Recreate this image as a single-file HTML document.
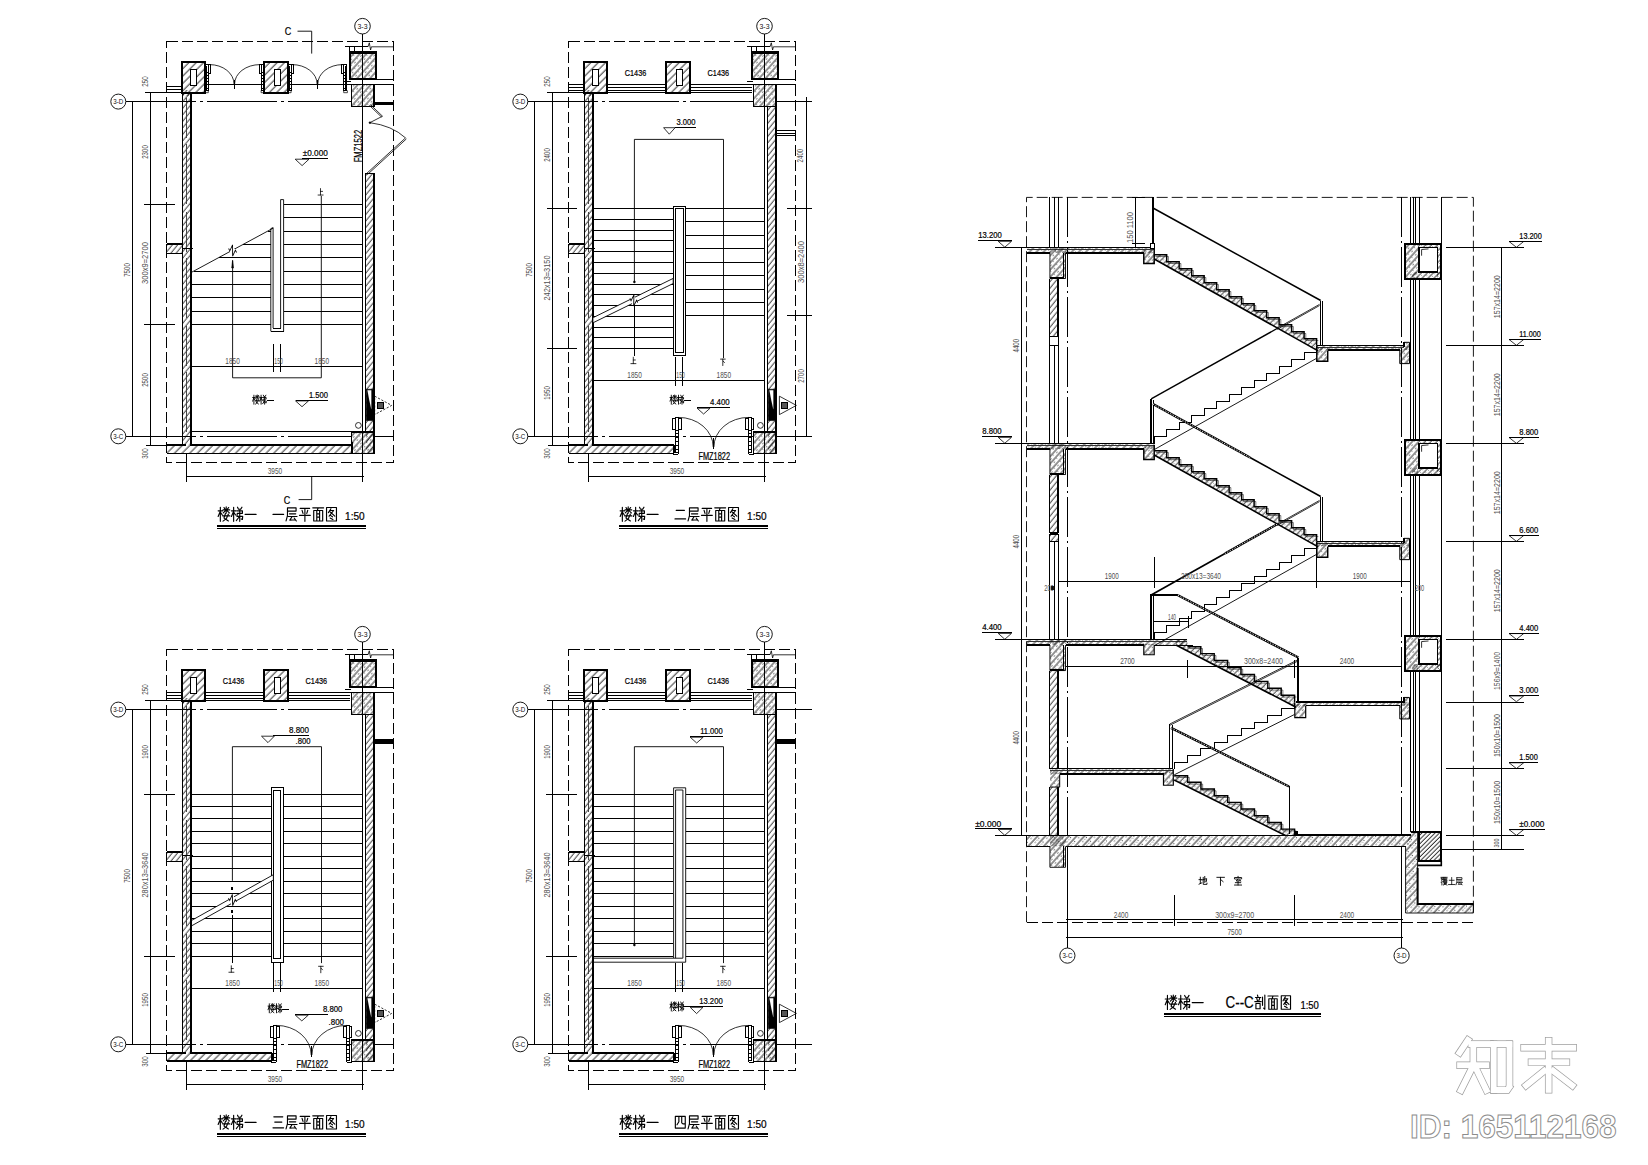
<!DOCTYPE html>
<html><head><meta charset="utf-8"><title>stair</title>
<style>html,body{margin:0;padding:0;background:#fff}svg{display:block}text{font-family:"Liberation Sans",sans-serif}.b{stroke:#000;stroke-width:.22px}</style>
</head><body>
<svg width="1648" height="1165" viewBox="0 0 1648 1165">
<defs>
<pattern id="hw" width="20" height="4.1" patternUnits="userSpaceOnUse" patternTransform="rotate(-51)"><line x1="0" y1="1" x2="20" y2="1" stroke="#000" stroke-width="0.8"/></pattern>
<pattern id="hcol" width="20" height="5.2" patternUnits="userSpaceOnUse" patternTransform="rotate(-45)"><line x1="0" y1="1" x2="20" y2="1" stroke="#000" stroke-width="0.85"/></pattern>
<pattern id="hw2" width="20" height="5.4" patternUnits="userSpaceOnUse" patternTransform="rotate(-45)"><line x1="0" y1="1" x2="20" y2="1" stroke="#000" stroke-width="0.85"/></pattern>
<pattern id="hc" width="9" height="4.8" patternUnits="userSpaceOnUse" patternTransform="rotate(-48)"><line x1="0" y1="1" x2="9" y2="1" stroke="#000" stroke-width="0.85"/><circle cx="2" cy="3.2" r="0.55"/><circle cx="6.5" cy="2.6" r="0.45"/></pattern>
<pattern id="hs" width="7" height="4.2" patternUnits="userSpaceOnUse" patternTransform="rotate(-45)"><line x1="0" y1="1" x2="7" y2="1" stroke="#000" stroke-width="0.8"/><circle cx="2" cy="2.4" r="0.45"/><circle cx="5.3" cy="2.7" r="0.4"/></pattern>
<pattern id="hsl" width="9" height="5" patternUnits="userSpaceOnUse" patternTransform="rotate(-45)"><line x1="0" y1="1" x2="9" y2="1" stroke="#000" stroke-width="0.8"/><circle cx="2" cy="3.2" r="0.5"/><circle cx="6.4" cy="3.6" r="0.45"/></pattern>
<pattern id="hg" width="11" height="5.7" patternUnits="userSpaceOnUse" patternTransform="rotate(-47)"><line x1="0" y1="1" x2="11" y2="1" stroke="#000" stroke-width="0.9"/><circle cx="2" cy="3.6" r="0.55"/><circle cx="7.5" cy="3.2" r="0.5"/><path d="M4.5,3 l1.2,1.2" stroke="#000" stroke-width="0.5"/></pattern>
<pattern id="hd" width="10" height="3.1" patternUnits="userSpaceOnUse" patternTransform="rotate(-45)"><line x1="0" y1="1" x2="10" y2="1" stroke="#000" stroke-width="0.8"/></pattern>
</defs>
<rect width="1648" height="1165" fill="#fff"/>
<g transform="translate(0 0)">
<rect x="166.5" y="41.5" width="227" height="421" fill="none" stroke="#000" stroke-width="1" shape-rendering="crispEdges" stroke-dasharray="11 4"/>
<rect x="182.4" y="92.3" width="8.2" height="352.7" fill="url(#hw)" stroke="none" stroke-width="0" shape-rendering="crispEdges"/>
<line x1="182.5" y1="92.3" x2="182.5" y2="445" stroke="#000" stroke-width="1" shape-rendering="crispEdges"/>
<line x1="186.5" y1="98" x2="186.5" y2="440" stroke="#444" stroke-width="1" stroke-dasharray="40 6 60 8" shape-rendering="crispEdges"/>
<line x1="191" y1="92.3" x2="191" y2="445.5" stroke="#000" stroke-width="2" shape-rendering="crispEdges"/>
<rect x="166.5" y="244.4" width="15.9" height="9.2" fill="url(#hw)" stroke="none" stroke-width="0" shape-rendering="crispEdges"/>
<line x1="166.5" y1="244" x2="182.4" y2="244" stroke="#000" stroke-width="2" shape-rendering="crispEdges"/>
<line x1="166.5" y1="253.5" x2="182.4" y2="253.5" stroke="#000" stroke-width="1" shape-rendering="crispEdges"/>
<line x1="166.5" y1="244.4" x2="166.5" y2="253.6" stroke="#000" stroke-width="1" shape-rendering="crispEdges"/>
<line x1="182.4" y1="248.5" x2="193" y2="248.5" stroke="#000" stroke-width="1" shape-rendering="crispEdges"/>
<line x1="166.5" y1="86.5" x2="182.4" y2="86.5" stroke="#000" stroke-width="1" shape-rendering="crispEdges"/>
<line x1="166.5" y1="89.5" x2="182.4" y2="89.5" stroke="#000" stroke-width="1" shape-rendering="crispEdges"/>
<line x1="205" y1="84.5" x2="349.5" y2="84.5" stroke="#000" stroke-width="1" shape-rendering="crispEdges"/>
<rect x="205.5" y="64.5" width="3" height="26" fill="#fff" stroke="#000" stroke-width="1" shape-rendering="crispEdges"/>
<line x1="206.4" y1="72.5" x2="208.3" y2="72.5" stroke="#000" stroke-width="1" shape-rendering="crispEdges"/>
<line x1="206.4" y1="75.5" x2="208.3" y2="75.5" stroke="#000" stroke-width="1" shape-rendering="crispEdges"/>
<line x1="206.4" y1="78.5" x2="208.3" y2="78.5" stroke="#000" stroke-width="1" shape-rendering="crispEdges"/>
<line x1="206.4" y1="81.5" x2="208.3" y2="81.5" stroke="#000" stroke-width="1" shape-rendering="crispEdges"/>
<line x1="206.4" y1="84.5" x2="208.3" y2="84.5" stroke="#000" stroke-width="1" shape-rendering="crispEdges"/>
<line x1="206.4" y1="88.5" x2="208.3" y2="88.5" stroke="#000" stroke-width="1" shape-rendering="crispEdges"/>
<line x1="206.5" y1="66" x2="206.5" y2="90.4" stroke="#000" stroke-width="1" shape-rendering="crispEdges"/>
<rect x="208.5" y="64.5" width="2" height="9" fill="#fff" stroke="#000" stroke-width="1" shape-rendering="crispEdges"/>
<path d="M204.6,90.4 L204.6,92.7 L208.3,92.7 L208.3,90.4" fill="none" stroke="#000" stroke-width="0.7" stroke-linejoin="miter"/>
<rect x="261.5" y="64.5" width="3" height="26" fill="#fff" stroke="#000" stroke-width="1" shape-rendering="crispEdges"/>
<line x1="263" y1="72.5" x2="261.1" y2="72.5" stroke="#000" stroke-width="1" shape-rendering="crispEdges"/>
<line x1="263" y1="75.5" x2="261.1" y2="75.5" stroke="#000" stroke-width="1" shape-rendering="crispEdges"/>
<line x1="263" y1="78.5" x2="261.1" y2="78.5" stroke="#000" stroke-width="1" shape-rendering="crispEdges"/>
<line x1="263" y1="81.5" x2="261.1" y2="81.5" stroke="#000" stroke-width="1" shape-rendering="crispEdges"/>
<line x1="263" y1="84.5" x2="261.1" y2="84.5" stroke="#000" stroke-width="1" shape-rendering="crispEdges"/>
<line x1="263" y1="88.5" x2="261.1" y2="88.5" stroke="#000" stroke-width="1" shape-rendering="crispEdges"/>
<line x1="263.5" y1="66" x2="263.5" y2="90.4" stroke="#000" stroke-width="1" shape-rendering="crispEdges"/>
<rect x="259.5" y="64.5" width="2" height="9" fill="#fff" stroke="#000" stroke-width="1" shape-rendering="crispEdges"/>
<path d="M264.8,90.4 L264.8,92.7 L261.1,92.7 L261.1,90.4" fill="none" stroke="#000" stroke-width="0.7" stroke-linejoin="miter"/>
<rect x="288.5" y="64.5" width="3" height="26" fill="#fff" stroke="#000" stroke-width="1" shape-rendering="crispEdges"/>
<line x1="289.2" y1="72.5" x2="291.1" y2="72.5" stroke="#000" stroke-width="1" shape-rendering="crispEdges"/>
<line x1="289.2" y1="75.5" x2="291.1" y2="75.5" stroke="#000" stroke-width="1" shape-rendering="crispEdges"/>
<line x1="289.2" y1="78.5" x2="291.1" y2="78.5" stroke="#000" stroke-width="1" shape-rendering="crispEdges"/>
<line x1="289.2" y1="81.5" x2="291.1" y2="81.5" stroke="#000" stroke-width="1" shape-rendering="crispEdges"/>
<line x1="289.2" y1="84.5" x2="291.1" y2="84.5" stroke="#000" stroke-width="1" shape-rendering="crispEdges"/>
<line x1="289.2" y1="88.5" x2="291.1" y2="88.5" stroke="#000" stroke-width="1" shape-rendering="crispEdges"/>
<line x1="289.5" y1="66" x2="289.5" y2="90.4" stroke="#000" stroke-width="1" shape-rendering="crispEdges"/>
<rect x="291.5" y="64.5" width="2" height="9" fill="#fff" stroke="#000" stroke-width="1" shape-rendering="crispEdges"/>
<path d="M287.4,90.4 L287.4,92.7 L291.1,92.7 L291.1,90.4" fill="none" stroke="#000" stroke-width="0.7" stroke-linejoin="miter"/>
<rect x="343.5" y="64.5" width="3" height="26" fill="#fff" stroke="#000" stroke-width="1" shape-rendering="crispEdges"/>
<line x1="345.6" y1="72.5" x2="343.7" y2="72.5" stroke="#000" stroke-width="1" shape-rendering="crispEdges"/>
<line x1="345.6" y1="75.5" x2="343.7" y2="75.5" stroke="#000" stroke-width="1" shape-rendering="crispEdges"/>
<line x1="345.6" y1="78.5" x2="343.7" y2="78.5" stroke="#000" stroke-width="1" shape-rendering="crispEdges"/>
<line x1="345.6" y1="81.5" x2="343.7" y2="81.5" stroke="#000" stroke-width="1" shape-rendering="crispEdges"/>
<line x1="345.6" y1="84.5" x2="343.7" y2="84.5" stroke="#000" stroke-width="1" shape-rendering="crispEdges"/>
<line x1="345.6" y1="88.5" x2="343.7" y2="88.5" stroke="#000" stroke-width="1" shape-rendering="crispEdges"/>
<line x1="345.5" y1="66" x2="345.5" y2="90.4" stroke="#000" stroke-width="1" shape-rendering="crispEdges"/>
<rect x="341.5" y="64.5" width="2" height="9" fill="#fff" stroke="#000" stroke-width="1" shape-rendering="crispEdges"/>
<path d="M347.4,90.4 L347.4,92.7 L343.7,92.7 L343.7,90.4" fill="none" stroke="#000" stroke-width="0.7" stroke-linejoin="miter"/>
<path d="M209.6,64.6 A24.4,19.4 0 0 1 234,84" fill="none" stroke="#000" stroke-width="0.8"/>
<path d="M260,64.6 A25.4,19.4 0 0 0 234.6,84" fill="none" stroke="#000" stroke-width="0.8"/>
<line x1="234.5" y1="80.1" x2="234.5" y2="88.8" stroke="#000" stroke-width="1" shape-rendering="crispEdges"/>
<path d="M292.1,64.6 A25,19.4 0 0 1 317.1,84" fill="none" stroke="#000" stroke-width="0.8"/>
<path d="M342.6,64.6 A24.8,19.4 0 0 0 317.8,84" fill="none" stroke="#000" stroke-width="0.8"/>
<line x1="317.5" y1="80.1" x2="317.5" y2="88.8" stroke="#000" stroke-width="1" shape-rendering="crispEdges"/>
<rect x="182.4" y="61.7" width="22.4" height="30.9" fill="#fff" stroke="none" stroke-width="0" shape-rendering="crispEdges"/>
<rect x="182" y="62" width="23" height="31" fill="url(#hcol)" stroke="#000" stroke-width="2" shape-rendering="crispEdges"/>
<rect x="190.5" y="69.5" width="6" height="16" fill="#fff" stroke="#000" stroke-width="1" shape-rendering="crispEdges"/>
<rect x="264.4" y="61.7" width="23.1" height="30.9" fill="#fff" stroke="none" stroke-width="0" shape-rendering="crispEdges"/>
<rect x="264" y="62" width="24" height="31" fill="url(#hcol)" stroke="#000" stroke-width="2" shape-rendering="crispEdges"/>
<rect x="274.5" y="69.5" width="6" height="16" fill="#fff" stroke="#000" stroke-width="1" shape-rendering="crispEdges"/>
<rect x="183.3" y="90" width="6.3" height="6" fill="url(#hw)" stroke="none" stroke-width="0" shape-rendering="crispEdges"/>
<line x1="190.6" y1="93" x2="204.8" y2="93" stroke="#000" stroke-width="2" shape-rendering="crispEdges"/>
<line x1="345" y1="46.5" x2="368" y2="46.5" stroke="#000" stroke-width="1" shape-rendering="crispEdges"/>
<path d="M368,46.8 L369.3,42.8 L370.6,50 L371.4,46.8 L393.6,46.8" fill="none" stroke="#000" stroke-width="0.8" stroke-linejoin="miter"/>
<line x1="349.5" y1="46.8" x2="349.5" y2="52.5" stroke="#000" stroke-width="1" shape-rendering="crispEdges"/>
<line x1="354.5" y1="46.8" x2="354.5" y2="52.5" stroke="#000" stroke-width="1" shape-rendering="crispEdges"/>
<rect x="349.7" y="52.5" width="26.7" height="26.7" fill="#fff" stroke="none" stroke-width="0" shape-rendering="crispEdges"/>
<rect x="350" y="52" width="26" height="27" fill="url(#hc)" stroke="#000" stroke-width="2" shape-rendering="crispEdges"/>
<line x1="349.7" y1="53" x2="376.4" y2="53" stroke="#000" stroke-width="2" shape-rendering="crispEdges"/>
<line x1="376" y1="52.5" x2="376" y2="79.2" stroke="#000" stroke-width="2" shape-rendering="crispEdges"/>
<line x1="349.7" y1="79.5" x2="393.6" y2="79.5" stroke="#000" stroke-width="1" shape-rendering="crispEdges"/>
<line x1="345" y1="81.5" x2="351" y2="81.5" stroke="#000" stroke-width="1" shape-rendering="crispEdges"/>
<line x1="347" y1="84.5" x2="393.6" y2="84.5" stroke="#000" stroke-width="1" shape-rendering="crispEdges"/>
<rect x="351.3" y="84.4" width="23" height="21.7" fill="#fff" stroke="none" stroke-width="0" shape-rendering="crispEdges"/>
<rect x="351.5" y="84.5" width="23" height="22" fill="url(#hc)" stroke="#000" stroke-width="1" shape-rendering="crispEdges"/>
<line x1="374" y1="84.4" x2="374" y2="106.1" stroke="#000" stroke-width="2" shape-rendering="crispEdges"/>
<line x1="374.4" y1="103" x2="393.6" y2="103" stroke="#000" stroke-width="2" shape-rendering="crispEdges"/>
<line x1="374.4" y1="104.5" x2="393.6" y2="104.5" stroke="#000" stroke-width="1" shape-rendering="crispEdges"/>
<line x1="362.5" y1="34" x2="362.5" y2="482" stroke="#000" stroke-width="1" shape-rendering="crispEdges"/>
<circle cx="362.5" cy="26.2" r="7.8" fill="#fff" stroke="#000" stroke-width="0.9"/>
<text x="362.5" y="28.5" font-size="6.5" textLength="10" lengthAdjust="spacingAndGlyphs" text-anchor="middle" fill="#111">3-3</text>
<line x1="125.5" y1="101.5" x2="352" y2="101.5" stroke="#000" stroke-width="1" stroke-dasharray="70 4 3 4" shape-rendering="crispEdges"/>
<line x1="125.5" y1="436.5" x2="352" y2="436.5" stroke="#000" stroke-width="1" stroke-dasharray="70 4 3 4" shape-rendering="crispEdges"/>
<circle cx="118.3" cy="101.6" r="7.5" fill="#fff" stroke="#000" stroke-width="0.9"/>
<text x="118.3" y="103.9" font-size="6.5" textLength="10" lengthAdjust="spacingAndGlyphs" text-anchor="middle" fill="#111">3-D</text>
<circle cx="118.3" cy="436.3" r="7.5" fill="#fff" stroke="#000" stroke-width="0.9"/>
<text x="118.3" y="438.6" font-size="6.5" textLength="10" lengthAdjust="spacingAndGlyphs" text-anchor="middle" fill="#111">3-C</text>
<line x1="374.5" y1="436.5" x2="393.6" y2="436.5" stroke="#000" stroke-width="1" shape-rendering="crispEdges"/>
<rect x="365.8" y="173" width="8.4" height="280.4" fill="url(#hw)" stroke="none" stroke-width="0" shape-rendering="crispEdges"/>
<line x1="365.5" y1="173" x2="365.5" y2="432" stroke="#000" stroke-width="1" shape-rendering="crispEdges"/>
<line x1="374" y1="173" x2="374" y2="453.4" stroke="#000" stroke-width="2" shape-rendering="crispEdges"/>
<line x1="365.6" y1="173.5" x2="374.5" y2="173.5" stroke="#000" stroke-width="1" shape-rendering="crispEdges"/>
<rect x="166.5" y="445" width="184.8" height="8.3" fill="url(#hw2)" stroke="none" stroke-width="0" shape-rendering="crispEdges"/>
<line x1="166.5" y1="445" x2="186" y2="445" stroke="#000" stroke-width="2" shape-rendering="crispEdges"/>
<line x1="190.6" y1="445" x2="351.3" y2="445" stroke="#000" stroke-width="2" shape-rendering="crispEdges"/>
<line x1="166.5" y1="453.5" x2="374.5" y2="453.5" stroke="#000" stroke-width="1" shape-rendering="crispEdges"/>
<line x1="166.5" y1="445" x2="166.5" y2="453.3" stroke="#000" stroke-width="1" shape-rendering="crispEdges"/>
<line x1="190.6" y1="431.5" x2="365.6" y2="431.5" stroke="#000" stroke-width="1" shape-rendering="crispEdges"/>
<rect x="351.5" y="431.5" width="23" height="22" fill="url(#hc)" stroke="#000" stroke-width="1" shape-rendering="crispEdges"/>
<line x1="351.3" y1="432.5" x2="374.2" y2="432.5" stroke="#000" stroke-width="1" shape-rendering="crispEdges"/>
<line x1="352" y1="442" x2="352" y2="453.4" stroke="#000" stroke-width="2" shape-rendering="crispEdges"/>
<path d="M366.2,389.2 L373.9,389.2 L373.9,420.6 L366.2,420.6Z" fill="#000" stroke="#000" stroke-width="0.5" stroke-linejoin="miter"/>
<path d="M367.4,390.2 Q369.4,401.2 371.3,409.2 L371.3,390.2 Z" fill="#fff" stroke="#fff" stroke-width="0.1"/>
<path d="M374.7,396.2 L391.7,405.4 L374.7,414.6Z" fill="none" stroke="#000" stroke-width="0.8" stroke-linejoin="miter" stroke-dasharray="2.2 1.6"/>
<rect x="377.5" y="402.5" width="6" height="6" fill="#555" stroke="#000" stroke-width="1" shape-rendering="crispEdges"/>
<circle cx="358.4" cy="425.4" r="2.9" fill="none" stroke="#000" stroke-width="0.8"/>
<line x1="132.5" y1="101.6" x2="132.5" y2="436.3" stroke="#000" stroke-width="1" shape-rendering="crispEdges"/>
<line x1="150.5" y1="92.3" x2="150.5" y2="445.2" stroke="#000" stroke-width="1" shape-rendering="crispEdges"/>
<line x1="144.5" y1="92.5" x2="182.4" y2="92.5" stroke="#000" stroke-width="1" shape-rendering="crispEdges"/>
<line x1="145.6" y1="445.5" x2="166.5" y2="445.5" stroke="#000" stroke-width="1" shape-rendering="crispEdges"/>
<line x1="185.5" y1="476.5" x2="363.8" y2="476.5" stroke="#000" stroke-width="1" shape-rendering="crispEdges"/>
<line x1="186.5" y1="453.4" x2="186.5" y2="482" stroke="#000" stroke-width="1" shape-rendering="crispEdges"/>
<text x="275" y="474.2" font-size="9.4" textLength="14.5" lengthAdjust="spacingAndGlyphs" text-anchor="middle" fill="#505050">3950</text>
<line x1="283.6" y1="204.5" x2="362.5" y2="204.5" stroke="#000" stroke-width="1" shape-rendering="crispEdges"/>
<line x1="283.6" y1="217.5" x2="362.5" y2="217.5" stroke="#000" stroke-width="1" shape-rendering="crispEdges"/>
<line x1="283.6" y1="231.5" x2="362.5" y2="231.5" stroke="#000" stroke-width="1" shape-rendering="crispEdges"/>
<line x1="283.6" y1="244.5" x2="362.5" y2="244.5" stroke="#000" stroke-width="1" shape-rendering="crispEdges"/>
<line x1="283.6" y1="257.5" x2="362.5" y2="257.5" stroke="#000" stroke-width="1" shape-rendering="crispEdges"/>
<line x1="283.6" y1="271.5" x2="362.5" y2="271.5" stroke="#000" stroke-width="1" shape-rendering="crispEdges"/>
<line x1="283.6" y1="284.5" x2="362.5" y2="284.5" stroke="#000" stroke-width="1" shape-rendering="crispEdges"/>
<line x1="283.6" y1="297.5" x2="362.5" y2="297.5" stroke="#000" stroke-width="1" shape-rendering="crispEdges"/>
<line x1="283.6" y1="311.5" x2="362.5" y2="311.5" stroke="#000" stroke-width="1" shape-rendering="crispEdges"/>
<line x1="283.6" y1="324.5" x2="362.5" y2="324.5" stroke="#000" stroke-width="1" shape-rendering="crispEdges"/>
<line x1="267.92" y1="231.5" x2="270.8" y2="231.5" stroke="#000" stroke-width="1" shape-rendering="crispEdges"/>
<line x1="243.23" y1="244.5" x2="270.8" y2="244.5" stroke="#000" stroke-width="1" shape-rendering="crispEdges"/>
<line x1="218.54" y1="257.5" x2="270.8" y2="257.5" stroke="#000" stroke-width="1" shape-rendering="crispEdges"/>
<line x1="193.85" y1="271.5" x2="270.8" y2="271.5" stroke="#000" stroke-width="1" shape-rendering="crispEdges"/>
<line x1="191.5" y1="284.5" x2="270.8" y2="284.5" stroke="#000" stroke-width="1" shape-rendering="crispEdges"/>
<line x1="191.5" y1="297.5" x2="270.8" y2="297.5" stroke="#000" stroke-width="1" shape-rendering="crispEdges"/>
<line x1="191.5" y1="311.5" x2="270.8" y2="311.5" stroke="#000" stroke-width="1" shape-rendering="crispEdges"/>
<line x1="191.5" y1="324.5" x2="270.8" y2="324.5" stroke="#000" stroke-width="1" shape-rendering="crispEdges"/>
<line x1="190.8" y1="272.7" x2="273.1" y2="228.2" stroke="#000" stroke-width="0.9"/>
<g transform="rotate(-28 232.6 250.5)">
<rect x="230" y="247.3" width="5.2" height="6.4" fill="#fff" stroke="none" stroke-width="0" shape-rendering="crispEdges"/>
<path d="M230,246.9 L230,249.5 L235.2,245.5 L230,255.5 L235.2,251.5 L235.2,254.1" fill="none" stroke="#000" stroke-width="0.9" stroke-linejoin="miter"/>
</g>
<path d="M270.8,331.4 L270.8,228.6 L273.1,227.6 L273.1,328" fill="none" stroke="#000" stroke-width="0.9" stroke-linejoin="miter"/>
<path d="M283.6,331.4 L283.6,199.6 L280.6,199.6 L280.6,328" fill="none" stroke="#000" stroke-width="0.9" stroke-linejoin="miter"/>
<line x1="270.8" y1="331.5" x2="283.6" y2="331.5" stroke="#000" stroke-width="1" shape-rendering="crispEdges"/>
<line x1="273.1" y1="328.5" x2="280.6" y2="328.5" stroke="#000" stroke-width="1" shape-rendering="crispEdges"/>
<path d="M321.3,196 L321.3,377.8 L232.6,377.8 L232.6,261" fill="none" stroke="#000" stroke-width="0.9" stroke-linejoin="miter"/>
<path d="M232.6,260 L231.7,268 L233.5,268Z" fill="#000" stroke="#000" stroke-width="0.6" stroke-linejoin="miter"/>
<path d="M320.49,188.58 L320.49,195.04M320.49,191.39 L322.56,191.39M318.08,195.04 L323.12,195.04" fill="none" stroke="#000" stroke-width="0.8" stroke-linecap="round" stroke-linejoin="round"/>
<line x1="190.8" y1="366.5" x2="362.4" y2="366.5" stroke="#000" stroke-width="1" shape-rendering="crispEdges"/>
<line x1="273.5" y1="344.2" x2="273.5" y2="372" stroke="#000" stroke-width="1" shape-rendering="crispEdges"/>
<line x1="280.5" y1="344.2" x2="280.5" y2="372" stroke="#000" stroke-width="1" shape-rendering="crispEdges"/>
<text x="232.6" y="363.8" font-size="9.4" textLength="14.5" lengthAdjust="spacingAndGlyphs" text-anchor="middle" fill="#505050">1850</text>
<text x="278.6" y="363.8" font-size="9.4" textLength="8.5" lengthAdjust="spacingAndGlyphs" text-anchor="middle" fill="#505050">150</text>
<text x="321.8" y="363.8" font-size="9.4" textLength="14.5" lengthAdjust="spacingAndGlyphs" text-anchor="middle" fill="#505050">1850</text>
<path d="M252.64,397.49 L255.16,397.49M253.9,395.18 L253.9,404.21M253.9,397.68 L252.64,401.14M253.9,398.26 L255.02,400.18M257.26,394.99 L257.26,399.02M255.44,396.91 L259.29,396.91M256,395.38 L256.56,396.43M258.66,395.38 L257.96,396.43M257.12,397.1 L255.58,398.83M257.4,397.1 L259.08,398.83M255.3,400.75 L259.36,400.75M256.84,399.22 L256,402.1 L258.52,404.02M258.52,399.6 L257.4,402.48 L255.44,404.11" fill="none" stroke="#000" stroke-width="0.9" stroke-linecap="round" stroke-linejoin="round"/>
<path d="M259.84,397.49 L262.36,397.49M261.1,395.18 L261.1,404.21M261.1,397.68 L259.84,401.14M261.1,398.26 L262.22,400.18M263.34,395.18 L263.9,396.43M265.86,395.18 L265.16,396.43M262.92,397.49 L266.14,397.49 L266.14,399.12 L263.2,399.12 L262.99,401.04 L266.28,401.04 L266.14,403.06 L265.44,402.67M264.6,396.43 L264.6,404.21M264.46,401.14 L262.64,403.73" fill="none" stroke="#000" stroke-width="0.9" stroke-linecap="round" stroke-linejoin="round"/>
<line x1="267" y1="400.5" x2="273.5" y2="400.5" stroke="#000" stroke-width="1" shape-rendering="crispEdges"/>
<line x1="295.5" y1="400.5" x2="327.9" y2="400.5" stroke="#000" stroke-width="1" shape-rendering="crispEdges"/>
<path d="M295.5,400.9 L308.5,400.9 L302,406.7Z" fill="none" stroke="#000" stroke-width="0.8" stroke-linejoin="miter"/>
<text x="327.9" y="398.1" font-size="9.3" textLength="19" lengthAdjust="spacingAndGlyphs" text-anchor="end" class="b">1.500</text>
<line x1="302.1" y1="158.5" x2="327.8" y2="158.5" stroke="#000" stroke-width="1" shape-rendering="crispEdges"/>
<path d="M295.2,159.2 L309,159.2 L302.1,165.6Z" fill="none" stroke="#000" stroke-width="0.8" stroke-linejoin="miter"/>
<text x="327.8" y="156.2" font-size="9.3" textLength="25" lengthAdjust="spacingAndGlyphs" text-anchor="end" class="b">±0.000</text>
<text x="362.2" y="162.3" font-size="10" textLength="32.5" lengthAdjust="spacingAndGlyphs" transform="rotate(-90 362.2 162.3)" class="b">FMZ1522</text>
<path d="M369.4,105.4 L381.5,117" fill="none" stroke="#000" stroke-width="0.8" stroke-linejoin="miter"/>
<path d="M370.4,104.6 L382.5,116.2 L370,122.6" fill="none" stroke="#000" stroke-width="0.8" stroke-linejoin="miter"/>
<circle cx="369.9" cy="122.7" r="0.9" fill="#000" stroke="#000" stroke-width="0.5"/>
<path d="M369.9,122.7 Q392,125.5 405.5,137.9" fill="none" stroke="#000" stroke-width="0.8"/>
<line x1="405.5" y1="137.9" x2="366.4" y2="173.7" stroke="#000" stroke-width="0.8"/>
<line x1="406.4" y1="138.9" x2="367.4" y2="174.6" stroke="#000" stroke-width="0.8"/>
<line x1="143.8" y1="204.5" x2="174.6" y2="204.5" stroke="#000" stroke-width="1" shape-rendering="crispEdges"/>
<line x1="143.8" y1="324.5" x2="174.6" y2="324.5" stroke="#000" stroke-width="1" shape-rendering="crispEdges"/>
<text x="147.6" y="81.5" font-size="9.4" textLength="10.3" lengthAdjust="spacingAndGlyphs" text-anchor="middle" transform="rotate(-90 147.6 81.5)" fill="#505050">250</text>
<text x="147.6" y="152" font-size="9.4" textLength="13.6" lengthAdjust="spacingAndGlyphs" text-anchor="middle" transform="rotate(-90 147.6 152)" fill="#505050">2300</text>
<text x="129.8" y="270" font-size="9.4" textLength="13.6" lengthAdjust="spacingAndGlyphs" text-anchor="middle" transform="rotate(-90 129.8 270)" fill="#505050">7500</text>
<text x="147.6" y="263" font-size="9.4" textLength="42" lengthAdjust="spacingAndGlyphs" text-anchor="middle" transform="rotate(-90 147.6 263)" fill="#505050">300x9=2700</text>
<text x="147.6" y="380" font-size="9.4" textLength="13.6" lengthAdjust="spacingAndGlyphs" text-anchor="middle" transform="rotate(-90 147.6 380)" fill="#505050">2500</text>
<text x="147.6" y="453.5" font-size="9.4" textLength="10.3" lengthAdjust="spacingAndGlyphs" text-anchor="middle" transform="rotate(-90 147.6 453.5)" fill="#505050">300</text>
<text x="284.8" y="35.2" font-size="11.5" textLength="6.5" lengthAdjust="spacingAndGlyphs" class="b">C</text>
<path d="M297.5,31.2 L311.7,31.2 L311.7,53.6" fill="none" stroke="#000" stroke-width="0.9" stroke-linejoin="miter"/>
<path d="M311.7,476.1 L311.7,499.6 L298.6,499.6" fill="none" stroke="#000" stroke-width="0.9" stroke-linejoin="miter"/>
<text x="283.8" y="503.5" font-size="11.5" textLength="6.5" lengthAdjust="spacingAndGlyphs" class="b">C</text>
<path d="M218.14,510.8 L222.54,510.8M220.34,507.2 L220.34,521.3M220.34,511.1 L218.14,516.5M220.34,512 L222.29,515M226.2,506.9 L226.2,513.2M223.02,509.9 L229.73,509.9M224,507.5 L224.98,509.15M228.64,507.5 L227.42,509.15M225.95,510.2 L223.27,512.9M226.44,510.2 L229.37,512.9M222.78,515.9 L229.86,515.9M225.46,513.5 L224,518 L228.39,521M228.39,514.1 L226.44,518.6 L223.02,521.15" fill="none" stroke="#000" stroke-width="1.15" stroke-linecap="round" stroke-linejoin="round"/>
<path d="M231.44,510.8 L235.84,510.8M233.64,507.2 L233.64,521.3M233.64,511.1 L231.44,516.5M233.64,512 L235.59,515M237.54,507.2 L238.52,509.15M241.94,507.2 L240.72,509.15M236.81,510.8 L242.42,510.8 L242.42,513.35 L237.3,513.35 L236.93,516.35 L242.67,516.35 L242.42,519.5 L241.2,518.9M239.74,509.15 L239.74,521.3M239.5,516.5 L236.32,520.55" fill="none" stroke="#000" stroke-width="1.15" stroke-linecap="round" stroke-linejoin="round"/>
<path d="M245.11,514.4 L256.09,514.4" fill="none" stroke="#000" stroke-width="1.15" stroke-linecap="round" stroke-linejoin="round"/>
<path d="M272.99,514.4 L283.61,514.4" fill="none" stroke="#000" stroke-width="1.15" stroke-linecap="round" stroke-linejoin="round"/>
<path d="M287.47,507.8 L296.08,507.8 L296.08,511.1 L287.47,511.1M287.47,507.8 L287.47,515.6 L286.05,520.85M289.48,513.8 L295.73,513.8M288.3,516.5 L297.03,516.5M292.19,516.5 L289.83,520.1 L295.38,519.8M294.2,518 L296.32,521" fill="none" stroke="#000" stroke-width="1.15" stroke-linecap="round" stroke-linejoin="round"/>
<path d="M300.18,508.4 L309.62,508.4M302.07,510.35 L303.01,513.35M307.73,510.35 L306.79,513.35M299.47,515.3 L310.33,515.3M304.9,508.4 L304.9,521.3" fill="none" stroke="#000" stroke-width="1.15" stroke-linecap="round" stroke-linejoin="round"/>
<path d="M312.77,507.8 L323.63,507.8M318.2,507.8 L317.26,510.5M313.72,510.5 L322.68,510.5 L322.68,521 L313.72,521 L313.72,510.5M316.78,510.5 L316.78,521M319.62,510.5 L319.62,521M316.78,513.8 L319.62,513.8M316.78,517.1 L319.62,517.1" fill="none" stroke="#000" stroke-width="1.15" stroke-linecap="round" stroke-linejoin="round"/>
<path d="M326.54,507.5 L336.46,507.5 L336.46,521 L326.54,521 L326.54,507.5M330.91,508.7 L328.43,512.6M329.85,510.5 L333.62,510.5 L329.14,516.2M330.32,512 L334.8,516.2M330.79,515.6 L332.44,516.8M330.08,518 L332.92,519.5" fill="none" stroke="#000" stroke-width="1.15" stroke-linecap="round" stroke-linejoin="round"/>
<text x="345.1" y="519.8" font-size="10.3" textLength="19.6" lengthAdjust="spacingAndGlyphs" class="b">1:50</text>
<line x1="217" y1="526" x2="365.8" y2="526" stroke="#000" stroke-width="2" shape-rendering="crispEdges"/>
<line x1="217" y1="528.5" x2="365.8" y2="528.5" stroke="#000" stroke-width="1" shape-rendering="crispEdges"/>
</g>
<g transform="translate(402 0)">
<rect x="166.5" y="41.5" width="227" height="421" fill="none" stroke="#000" stroke-width="1" shape-rendering="crispEdges" stroke-dasharray="11 4"/>
<rect x="182.4" y="92.3" width="8.2" height="352.7" fill="url(#hw)" stroke="none" stroke-width="0" shape-rendering="crispEdges"/>
<line x1="182.5" y1="92.3" x2="182.5" y2="445" stroke="#000" stroke-width="1" shape-rendering="crispEdges"/>
<line x1="186.5" y1="98" x2="186.5" y2="440" stroke="#444" stroke-width="1" stroke-dasharray="40 6 60 8" shape-rendering="crispEdges"/>
<line x1="191" y1="92.3" x2="191" y2="445.5" stroke="#000" stroke-width="2" shape-rendering="crispEdges"/>
<rect x="166.5" y="244.4" width="15.9" height="9.2" fill="url(#hw)" stroke="none" stroke-width="0" shape-rendering="crispEdges"/>
<line x1="166.5" y1="244" x2="182.4" y2="244" stroke="#000" stroke-width="2" shape-rendering="crispEdges"/>
<line x1="166.5" y1="253.5" x2="182.4" y2="253.5" stroke="#000" stroke-width="1" shape-rendering="crispEdges"/>
<line x1="166.5" y1="244.4" x2="166.5" y2="253.6" stroke="#000" stroke-width="1" shape-rendering="crispEdges"/>
<line x1="182.4" y1="248.5" x2="193" y2="248.5" stroke="#000" stroke-width="1" shape-rendering="crispEdges"/>
<line x1="166.5" y1="84.5" x2="349.7" y2="84.5" stroke="#000" stroke-width="1" shape-rendering="crispEdges"/>
<line x1="166.5" y1="87.5" x2="349.7" y2="87.5" stroke="#000" stroke-width="1" shape-rendering="crispEdges"/>
<line x1="166.5" y1="90.5" x2="349.7" y2="90.5" stroke="#000" stroke-width="1" shape-rendering="crispEdges"/>
<line x1="166.5" y1="92.5" x2="349.7" y2="92.5" stroke="#000" stroke-width="1" shape-rendering="crispEdges"/>
<text x="222.8" y="75.6" font-size="9.6" textLength="21.5" lengthAdjust="spacingAndGlyphs" class="b">C1436</text>
<text x="305.6" y="75.6" font-size="9.6" textLength="21.5" lengthAdjust="spacingAndGlyphs" class="b">C1436</text>
<rect x="182.4" y="61.7" width="22.4" height="30.9" fill="#fff" stroke="none" stroke-width="0" shape-rendering="crispEdges"/>
<rect x="182" y="62" width="23" height="31" fill="url(#hcol)" stroke="#000" stroke-width="2" shape-rendering="crispEdges"/>
<rect x="190.5" y="69.5" width="6" height="16" fill="#fff" stroke="#000" stroke-width="1" shape-rendering="crispEdges"/>
<rect x="264.4" y="61.7" width="23.1" height="30.9" fill="#fff" stroke="none" stroke-width="0" shape-rendering="crispEdges"/>
<rect x="264" y="62" width="24" height="31" fill="url(#hcol)" stroke="#000" stroke-width="2" shape-rendering="crispEdges"/>
<rect x="274.5" y="69.5" width="6" height="16" fill="#fff" stroke="#000" stroke-width="1" shape-rendering="crispEdges"/>
<rect x="183.3" y="90" width="6.3" height="6" fill="url(#hw)" stroke="none" stroke-width="0" shape-rendering="crispEdges"/>
<line x1="190.6" y1="93" x2="204.8" y2="93" stroke="#000" stroke-width="2" shape-rendering="crispEdges"/>
<line x1="345" y1="46.5" x2="368" y2="46.5" stroke="#000" stroke-width="1" shape-rendering="crispEdges"/>
<path d="M368,46.8 L369.3,42.8 L370.6,50 L371.4,46.8 L393.6,46.8" fill="none" stroke="#000" stroke-width="0.8" stroke-linejoin="miter"/>
<line x1="349.5" y1="46.8" x2="349.5" y2="52.5" stroke="#000" stroke-width="1" shape-rendering="crispEdges"/>
<line x1="354.5" y1="46.8" x2="354.5" y2="52.5" stroke="#000" stroke-width="1" shape-rendering="crispEdges"/>
<rect x="349.7" y="52.5" width="26.7" height="26.7" fill="#fff" stroke="none" stroke-width="0" shape-rendering="crispEdges"/>
<rect x="350" y="52" width="26" height="27" fill="url(#hc)" stroke="#000" stroke-width="2" shape-rendering="crispEdges"/>
<line x1="349.7" y1="53" x2="376.4" y2="53" stroke="#000" stroke-width="2" shape-rendering="crispEdges"/>
<line x1="376" y1="52.5" x2="376" y2="79.2" stroke="#000" stroke-width="2" shape-rendering="crispEdges"/>
<line x1="349.7" y1="79.5" x2="393.6" y2="79.5" stroke="#000" stroke-width="1" shape-rendering="crispEdges"/>
<line x1="345" y1="81.5" x2="351" y2="81.5" stroke="#000" stroke-width="1" shape-rendering="crispEdges"/>
<line x1="347" y1="84.5" x2="393.6" y2="84.5" stroke="#000" stroke-width="1" shape-rendering="crispEdges"/>
<rect x="351.3" y="84.4" width="23" height="21.7" fill="#fff" stroke="none" stroke-width="0" shape-rendering="crispEdges"/>
<rect x="351.5" y="84.5" width="23" height="22" fill="url(#hc)" stroke="#000" stroke-width="1" shape-rendering="crispEdges"/>
<line x1="374" y1="84.4" x2="374" y2="106.1" stroke="#000" stroke-width="2" shape-rendering="crispEdges"/>
<line x1="362.5" y1="34" x2="362.5" y2="482" stroke="#000" stroke-width="1" shape-rendering="crispEdges"/>
<circle cx="362.5" cy="26.2" r="7.8" fill="#fff" stroke="#000" stroke-width="0.9"/>
<text x="362.5" y="28.5" font-size="6.5" textLength="10" lengthAdjust="spacingAndGlyphs" text-anchor="middle" fill="#111">3-3</text>
<line x1="125.5" y1="101.5" x2="352" y2="101.5" stroke="#000" stroke-width="1" stroke-dasharray="70 4 3 4" shape-rendering="crispEdges"/>
<line x1="125.5" y1="436.5" x2="352" y2="436.5" stroke="#000" stroke-width="1" stroke-dasharray="70 4 3 4" shape-rendering="crispEdges"/>
<circle cx="118.3" cy="101.6" r="7.5" fill="#fff" stroke="#000" stroke-width="0.9"/>
<text x="118.3" y="103.9" font-size="6.5" textLength="10" lengthAdjust="spacingAndGlyphs" text-anchor="middle" fill="#111">3-D</text>
<circle cx="118.3" cy="436.3" r="7.5" fill="#fff" stroke="#000" stroke-width="0.9"/>
<text x="118.3" y="438.6" font-size="6.5" textLength="10" lengthAdjust="spacingAndGlyphs" text-anchor="middle" fill="#111">3-C</text>
<line x1="374.5" y1="101.5" x2="410" y2="101.5" stroke="#000" stroke-width="1" shape-rendering="crispEdges"/>
<line x1="374.5" y1="436.5" x2="410" y2="436.5" stroke="#000" stroke-width="1" shape-rendering="crispEdges"/>
<rect x="365.8" y="106.1" width="8.4" height="347.3" fill="url(#hw)" stroke="none" stroke-width="0" shape-rendering="crispEdges"/>
<line x1="365.5" y1="106.1" x2="365.5" y2="432" stroke="#000" stroke-width="1" shape-rendering="crispEdges"/>
<line x1="374" y1="106.1" x2="374" y2="453.4" stroke="#000" stroke-width="2" shape-rendering="crispEdges"/>
<rect x="166.5" y="445" width="105.1" height="8.4" fill="url(#hw2)" stroke="none" stroke-width="0" shape-rendering="crispEdges"/>
<line x1="166.5" y1="445" x2="186" y2="445" stroke="#000" stroke-width="2" shape-rendering="crispEdges"/>
<line x1="190.6" y1="445" x2="271.6" y2="445" stroke="#000" stroke-width="2" shape-rendering="crispEdges"/>
<line x1="166.5" y1="453.5" x2="271.6" y2="453.5" stroke="#000" stroke-width="1" shape-rendering="crispEdges"/>
<line x1="166.5" y1="445" x2="166.5" y2="453.4" stroke="#000" stroke-width="1" shape-rendering="crispEdges"/>
<line x1="272" y1="445" x2="272" y2="453.4" stroke="#000" stroke-width="2" shape-rendering="crispEdges"/>
<rect x="273.5" y="417.5" width="3" height="35" fill="none" stroke="#000" stroke-width="1" shape-rendering="crispEdges"/>
<line x1="273.8" y1="430.5" x2="276.2" y2="430.5" stroke="#000" stroke-width="1" shape-rendering="crispEdges"/>
<line x1="273.8" y1="433.5" x2="276.2" y2="433.5" stroke="#000" stroke-width="1" shape-rendering="crispEdges"/>
<line x1="273.8" y1="437.5" x2="276.2" y2="437.5" stroke="#000" stroke-width="1" shape-rendering="crispEdges"/>
<line x1="273.8" y1="441.5" x2="276.2" y2="441.5" stroke="#000" stroke-width="1" shape-rendering="crispEdges"/>
<line x1="273.8" y1="445.5" x2="276.2" y2="445.5" stroke="#000" stroke-width="1" shape-rendering="crispEdges"/>
<line x1="273.8" y1="449.5" x2="276.2" y2="449.5" stroke="#000" stroke-width="1" shape-rendering="crispEdges"/>
<rect x="270.5" y="418.5" width="3" height="11" fill="none" stroke="#000" stroke-width="1" shape-rendering="crispEdges"/>
<rect x="276.5" y="418.5" width="3" height="11" fill="none" stroke="#000" stroke-width="1" shape-rendering="crispEdges"/>
<line x1="270.8" y1="454.5" x2="276.2" y2="454.5" stroke="#000" stroke-width="1" shape-rendering="crispEdges"/>
<line x1="270.5" y1="452.5" x2="270.5" y2="454.4" stroke="#000" stroke-width="1" shape-rendering="crispEdges"/>
<line x1="276.5" y1="452.5" x2="276.5" y2="454.4" stroke="#000" stroke-width="1" shape-rendering="crispEdges"/>
<rect x="346.5" y="417.5" width="3" height="35" fill="none" stroke="#000" stroke-width="1" shape-rendering="crispEdges"/>
<line x1="349" y1="430.5" x2="346.6" y2="430.5" stroke="#000" stroke-width="1" shape-rendering="crispEdges"/>
<line x1="349" y1="433.5" x2="346.6" y2="433.5" stroke="#000" stroke-width="1" shape-rendering="crispEdges"/>
<line x1="349" y1="437.5" x2="346.6" y2="437.5" stroke="#000" stroke-width="1" shape-rendering="crispEdges"/>
<line x1="349" y1="441.5" x2="346.6" y2="441.5" stroke="#000" stroke-width="1" shape-rendering="crispEdges"/>
<line x1="349" y1="445.5" x2="346.6" y2="445.5" stroke="#000" stroke-width="1" shape-rendering="crispEdges"/>
<line x1="349" y1="449.5" x2="346.6" y2="449.5" stroke="#000" stroke-width="1" shape-rendering="crispEdges"/>
<rect x="349.5" y="418.5" width="2" height="11" fill="none" stroke="#000" stroke-width="1" shape-rendering="crispEdges"/>
<rect x="343.5" y="418.5" width="3" height="11" fill="none" stroke="#000" stroke-width="1" shape-rendering="crispEdges"/>
<line x1="352" y1="454.5" x2="346.6" y2="454.5" stroke="#000" stroke-width="1" shape-rendering="crispEdges"/>
<line x1="352.5" y1="452.5" x2="352.5" y2="454.4" stroke="#000" stroke-width="1" shape-rendering="crispEdges"/>
<line x1="346.5" y1="452.5" x2="346.5" y2="454.4" stroke="#000" stroke-width="1" shape-rendering="crispEdges"/>
<path d="M276.4,417.4 A34.8,29.6 0 0 1 311.2,447" fill="none" stroke="#000" stroke-width="0.8"/>
<path d="M346.8,417.4 A34.8,29.6 0 0 0 311.9,447" fill="none" stroke="#000" stroke-width="0.8"/>
<line x1="311.5" y1="437.5" x2="311.5" y2="449.4" stroke="#000" stroke-width="1" shape-rendering="crispEdges"/>
<text x="296.4" y="459.6" font-size="10" textLength="31.6" lengthAdjust="spacingAndGlyphs" class="b">FMZ1822</text>
<rect x="351.5" y="431.5" width="23" height="22" fill="url(#hc)" stroke="#000" stroke-width="1" shape-rendering="crispEdges"/>
<line x1="351.3" y1="432" x2="374.2" y2="432" stroke="#000" stroke-width="2" shape-rendering="crispEdges"/>
<path d="M366.2,389.2 L373.9,389.2 L373.9,420.6 L366.2,420.6Z" fill="#000" stroke="#000" stroke-width="0.5" stroke-linejoin="miter"/>
<path d="M367.4,390.2 Q369.4,401.2 371.3,409.2 L371.3,390.2 Z" fill="#fff" stroke="#fff" stroke-width="0.1"/>
<path d="M377.4,396.2 L394.4,405.4 L377.4,414.6Z" fill="none" stroke="#000" stroke-width="0.8" stroke-linejoin="miter"/>
<rect x="379.5" y="402.5" width="6" height="6" fill="#555" stroke="#000" stroke-width="1" shape-rendering="crispEdges"/>
<circle cx="358.4" cy="425.4" r="2.9" fill="none" stroke="#000" stroke-width="0.8"/>
<line x1="132.5" y1="101.6" x2="132.5" y2="436.3" stroke="#000" stroke-width="1" shape-rendering="crispEdges"/>
<line x1="150.5" y1="92.3" x2="150.5" y2="445.2" stroke="#000" stroke-width="1" shape-rendering="crispEdges"/>
<line x1="144.5" y1="92.5" x2="182.4" y2="92.5" stroke="#000" stroke-width="1" shape-rendering="crispEdges"/>
<line x1="145.6" y1="445.5" x2="166.5" y2="445.5" stroke="#000" stroke-width="1" shape-rendering="crispEdges"/>
<line x1="185.5" y1="476.5" x2="363.8" y2="476.5" stroke="#000" stroke-width="1" shape-rendering="crispEdges"/>
<line x1="186.5" y1="453.4" x2="186.5" y2="482" stroke="#000" stroke-width="1" shape-rendering="crispEdges"/>
<text x="275" y="474.2" font-size="9.4" textLength="14.5" lengthAdjust="spacingAndGlyphs" text-anchor="middle" fill="#505050">3950</text>
<line x1="283.6" y1="208.5" x2="362.5" y2="208.5" stroke="#000" stroke-width="1" shape-rendering="crispEdges"/>
<line x1="283.6" y1="221.5" x2="362.5" y2="221.5" stroke="#000" stroke-width="1" shape-rendering="crispEdges"/>
<line x1="283.6" y1="235.5" x2="362.5" y2="235.5" stroke="#000" stroke-width="1" shape-rendering="crispEdges"/>
<line x1="283.6" y1="248.5" x2="362.5" y2="248.5" stroke="#000" stroke-width="1" shape-rendering="crispEdges"/>
<line x1="283.6" y1="262.5" x2="362.5" y2="262.5" stroke="#000" stroke-width="1" shape-rendering="crispEdges"/>
<line x1="283.6" y1="275.5" x2="362.5" y2="275.5" stroke="#000" stroke-width="1" shape-rendering="crispEdges"/>
<line x1="283.6" y1="289.5" x2="362.5" y2="289.5" stroke="#000" stroke-width="1" shape-rendering="crispEdges"/>
<line x1="283.6" y1="302.5" x2="362.5" y2="302.5" stroke="#000" stroke-width="1" shape-rendering="crispEdges"/>
<line x1="283.6" y1="315.5" x2="362.5" y2="315.5" stroke="#000" stroke-width="1" shape-rendering="crispEdges"/>
<line x1="191.5" y1="208.5" x2="271.4" y2="208.5" stroke="#000" stroke-width="1" shape-rendering="crispEdges"/>
<line x1="191.5" y1="219.5" x2="271.4" y2="219.5" stroke="#000" stroke-width="1" shape-rendering="crispEdges"/>
<line x1="191.5" y1="230.5" x2="271.4" y2="230.5" stroke="#000" stroke-width="1" shape-rendering="crispEdges"/>
<line x1="191.5" y1="240.5" x2="271.4" y2="240.5" stroke="#000" stroke-width="1" shape-rendering="crispEdges"/>
<line x1="191.5" y1="251.5" x2="271.4" y2="251.5" stroke="#000" stroke-width="1" shape-rendering="crispEdges"/>
<line x1="191.5" y1="262.5" x2="271.4" y2="262.5" stroke="#000" stroke-width="1" shape-rendering="crispEdges"/>
<line x1="191.5" y1="273.5" x2="271.4" y2="273.5" stroke="#000" stroke-width="1" shape-rendering="crispEdges"/>
<line x1="191.5" y1="284.5" x2="271.4" y2="284.5" stroke="#000" stroke-width="1" shape-rendering="crispEdges"/>
<line x1="191.5" y1="294.5" x2="271.4" y2="294.5" stroke="#000" stroke-width="1" shape-rendering="crispEdges"/>
<line x1="191.5" y1="305.5" x2="271.4" y2="305.5" stroke="#000" stroke-width="1" shape-rendering="crispEdges"/>
<line x1="191.5" y1="316.5" x2="271.4" y2="316.5" stroke="#000" stroke-width="1" shape-rendering="crispEdges"/>
<line x1="191.5" y1="327.5" x2="271.4" y2="327.5" stroke="#000" stroke-width="1" shape-rendering="crispEdges"/>
<line x1="191.5" y1="337.5" x2="271.4" y2="337.5" stroke="#000" stroke-width="1" shape-rendering="crispEdges"/>
<line x1="191.5" y1="348.5" x2="271.4" y2="348.5" stroke="#000" stroke-width="1" shape-rendering="crispEdges"/>
<path d="M232.4,281.9 L232.4,139.4 L321.5,139.4 L321.5,358.1" fill="none" stroke="#000" stroke-width="0.9" stroke-linejoin="miter"/>
<circle cx="232.4" cy="281.9" r="1" fill="#000" stroke="#000" stroke-width="0.5"/>
<line x1="232.5" y1="305.5" x2="232.5" y2="356.1" stroke="#000" stroke-width="1" shape-rendering="crispEdges"/>
<path d="M231.29,357.18 L231.29,363.64M231.29,359.99 L233.36,359.99M228.88,363.64 L233.92,363.64" fill="none" stroke="#000" stroke-width="0.8" stroke-linecap="round" stroke-linejoin="round"/>
<path d="M318.56,359.11 L323.24,359.11M320.8,359.11 L320.8,365.57M321.11,361.09 L322.46,362.61" fill="none" stroke="#000" stroke-width="0.8" stroke-linecap="round" stroke-linejoin="round"/>
<rect x="271.5" y="206.5" width="12" height="149" fill="#fff" stroke="#000" stroke-width="1" shape-rendering="crispEdges"/>
<rect x="273.5" y="208.5" width="8" height="144" fill="none" stroke="#000" stroke-width="1" shape-rendering="crispEdges"/>
<path d="M191.4,317.5 L271.2,278.4 L271.2,283.5 L191.4,322.6" fill="#fff" stroke="#000" stroke-width="0.9" stroke-linejoin="miter"/>
<g transform="rotate(-26 231.8 300.5)">
<rect x="229.2" y="297.3" width="5.2" height="6.4" fill="#fff" stroke="none" stroke-width="0" shape-rendering="crispEdges"/>
<path d="M229.2,296.9 L229.2,299.5 L234.4,295.5 L229.2,305.5 L234.4,301.5 L234.4,304.1" fill="none" stroke="#000" stroke-width="0.9" stroke-linejoin="miter"/>
</g>
<line x1="190.8" y1="380.5" x2="362.4" y2="380.5" stroke="#000" stroke-width="1" shape-rendering="crispEdges"/>
<line x1="273.5" y1="356.9" x2="273.5" y2="385.9" stroke="#000" stroke-width="1" shape-rendering="crispEdges"/>
<line x1="280.5" y1="356.9" x2="280.5" y2="385.9" stroke="#000" stroke-width="1" shape-rendering="crispEdges"/>
<text x="232.6" y="378.2" font-size="9.4" textLength="14.5" lengthAdjust="spacingAndGlyphs" text-anchor="middle" fill="#505050">1850</text>
<text x="278.6" y="378.2" font-size="9.4" textLength="8.5" lengthAdjust="spacingAndGlyphs" text-anchor="middle" fill="#505050">150</text>
<text x="321.8" y="378.2" font-size="9.4" textLength="14.5" lengthAdjust="spacingAndGlyphs" text-anchor="middle" fill="#505050">1850</text>
<line x1="273.1" y1="127.5" x2="293.5" y2="127.5" stroke="#000" stroke-width="1" shape-rendering="crispEdges"/>
<path d="M261.6,127.7 L273.1,127.7 L267.3,134.2Z" fill="none" stroke="#000" stroke-width="0.8" stroke-linejoin="miter"/>
<text x="293.5" y="124.8" font-size="9.3" textLength="19" lengthAdjust="spacingAndGlyphs" text-anchor="end" class="b">3.000</text>
<path d="M268.04,397.49 L270.56,397.49M269.3,395.18 L269.3,404.21M269.3,397.68 L268.04,401.14M269.3,398.26 L270.42,400.18M272.66,394.99 L272.66,399.02M270.84,396.91 L274.69,396.91M271.4,395.38 L271.96,396.43M274.06,395.38 L273.36,396.43M272.52,397.1 L270.98,398.83M272.8,397.1 L274.48,398.83M270.7,400.75 L274.76,400.75M272.24,399.22 L271.4,402.1 L273.92,404.02M273.92,399.6 L272.8,402.48 L270.84,404.11" fill="none" stroke="#000" stroke-width="0.9" stroke-linecap="round" stroke-linejoin="round"/>
<path d="M275.24,397.49 L277.76,397.49M276.5,395.18 L276.5,404.21M276.5,397.68 L275.24,401.14M276.5,398.26 L277.62,400.18M278.74,395.18 L279.3,396.43M281.26,395.18 L280.56,396.43M278.32,397.49 L281.54,397.49 L281.54,399.12 L278.6,399.12 L278.39,401.04 L281.68,401.04 L281.54,403.06 L280.84,402.67M280,396.43 L280,404.21M279.86,401.14 L278.04,403.73" fill="none" stroke="#000" stroke-width="0.9" stroke-linecap="round" stroke-linejoin="round"/>
<line x1="282.4" y1="400.5" x2="288.8" y2="400.5" stroke="#000" stroke-width="1" shape-rendering="crispEdges"/>
<line x1="295.1" y1="407.5" x2="327.6" y2="407.5" stroke="#000" stroke-width="1" shape-rendering="crispEdges"/>
<path d="M295.1,408.2 L308.1,408.2 L301.6,414Z" fill="none" stroke="#000" stroke-width="0.8" stroke-linejoin="miter"/>
<text x="327.6" y="405.4" font-size="9.3" textLength="19.5" lengthAdjust="spacingAndGlyphs" text-anchor="end" class="b">4.400</text>
<line x1="404.5" y1="96.6" x2="404.5" y2="436.3" stroke="#000" stroke-width="1" shape-rendering="crispEdges"/>
<line x1="384.8" y1="208.5" x2="409.6" y2="208.5" stroke="#000" stroke-width="1" shape-rendering="crispEdges"/>
<line x1="384.8" y1="315.5" x2="409.6" y2="315.5" stroke="#000" stroke-width="1" shape-rendering="crispEdges"/>
<text x="401.5" y="155.6" font-size="9.4" textLength="13.6" lengthAdjust="spacingAndGlyphs" text-anchor="middle" transform="rotate(-90 401.5 155.6)" fill="#505050">2400</text>
<text x="401.5" y="262" font-size="9.4" textLength="42" lengthAdjust="spacingAndGlyphs" text-anchor="middle" transform="rotate(-90 401.5 262)" fill="#505050">300x8=2400</text>
<text x="401.5" y="376" font-size="9.4" textLength="13.6" lengthAdjust="spacingAndGlyphs" text-anchor="middle" transform="rotate(-90 401.5 376)" fill="#505050">2700</text>
<line x1="374.5" y1="130.5" x2="393.6" y2="130.5" stroke="#000" stroke-width="1" shape-rendering="crispEdges"/>
<line x1="374.5" y1="133.5" x2="393.6" y2="133.5" stroke="#000" stroke-width="1" shape-rendering="crispEdges"/>
<line x1="374.5" y1="135.5" x2="393.6" y2="135.5" stroke="#000" stroke-width="1" shape-rendering="crispEdges"/>
<line x1="144.5" y1="208.5" x2="174.6" y2="208.5" stroke="#000" stroke-width="1" shape-rendering="crispEdges"/>
<line x1="144.5" y1="348.5" x2="174.6" y2="348.5" stroke="#000" stroke-width="1" shape-rendering="crispEdges"/>
<text x="147.6" y="81.5" font-size="9.4" textLength="10.3" lengthAdjust="spacingAndGlyphs" text-anchor="middle" transform="rotate(-90 147.6 81.5)" fill="#505050">250</text>
<text x="147.6" y="155" font-size="9.4" textLength="13.6" lengthAdjust="spacingAndGlyphs" text-anchor="middle" transform="rotate(-90 147.6 155)" fill="#505050">2400</text>
<text x="129.8" y="270" font-size="9.4" textLength="13.6" lengthAdjust="spacingAndGlyphs" text-anchor="middle" transform="rotate(-90 129.8 270)" fill="#505050">7500</text>
<text x="147.6" y="278" font-size="9.4" textLength="45" lengthAdjust="spacingAndGlyphs" text-anchor="middle" transform="rotate(-90 147.6 278)" fill="#505050">242x13=3150</text>
<text x="147.6" y="393" font-size="9.4" textLength="13.6" lengthAdjust="spacingAndGlyphs" text-anchor="middle" transform="rotate(-90 147.6 393)" fill="#505050">1950</text>
<text x="147.6" y="453.5" font-size="9.4" textLength="10.3" lengthAdjust="spacingAndGlyphs" text-anchor="middle" transform="rotate(-90 147.6 453.5)" fill="#505050">300</text>
<path d="M218.14,510.8 L222.54,510.8M220.34,507.2 L220.34,521.3M220.34,511.1 L218.14,516.5M220.34,512 L222.29,515M226.2,506.9 L226.2,513.2M223.02,509.9 L229.73,509.9M224,507.5 L224.98,509.15M228.64,507.5 L227.42,509.15M225.95,510.2 L223.27,512.9M226.44,510.2 L229.37,512.9M222.78,515.9 L229.86,515.9M225.46,513.5 L224,518 L228.39,521M228.39,514.1 L226.44,518.6 L223.02,521.15" fill="none" stroke="#000" stroke-width="1.15" stroke-linecap="round" stroke-linejoin="round"/>
<path d="M231.44,510.8 L235.84,510.8M233.64,507.2 L233.64,521.3M233.64,511.1 L231.44,516.5M233.64,512 L235.59,515M237.54,507.2 L238.52,509.15M241.94,507.2 L240.72,509.15M236.81,510.8 L242.42,510.8 L242.42,513.35 L237.3,513.35 L236.93,516.35 L242.67,516.35 L242.42,519.5 L241.2,518.9M239.74,509.15 L239.74,521.3M239.5,516.5 L236.32,520.55" fill="none" stroke="#000" stroke-width="1.15" stroke-linecap="round" stroke-linejoin="round"/>
<path d="M245.11,514.4 L256.09,514.4" fill="none" stroke="#000" stroke-width="1.15" stroke-linecap="round" stroke-linejoin="round"/>
<path d="M274.17,510.35 L282.43,510.35M272.99,518.9 L283.61,518.9" fill="none" stroke="#000" stroke-width="1.15" stroke-linecap="round" stroke-linejoin="round"/>
<path d="M287.47,507.8 L296.08,507.8 L296.08,511.1 L287.47,511.1M287.47,507.8 L287.47,515.6 L286.05,520.85M289.48,513.8 L295.73,513.8M288.3,516.5 L297.03,516.5M292.19,516.5 L289.83,520.1 L295.38,519.8M294.2,518 L296.32,521" fill="none" stroke="#000" stroke-width="1.15" stroke-linecap="round" stroke-linejoin="round"/>
<path d="M300.18,508.4 L309.62,508.4M302.07,510.35 L303.01,513.35M307.73,510.35 L306.79,513.35M299.47,515.3 L310.33,515.3M304.9,508.4 L304.9,521.3" fill="none" stroke="#000" stroke-width="1.15" stroke-linecap="round" stroke-linejoin="round"/>
<path d="M312.77,507.8 L323.63,507.8M318.2,507.8 L317.26,510.5M313.72,510.5 L322.68,510.5 L322.68,521 L313.72,521 L313.72,510.5M316.78,510.5 L316.78,521M319.62,510.5 L319.62,521M316.78,513.8 L319.62,513.8M316.78,517.1 L319.62,517.1" fill="none" stroke="#000" stroke-width="1.15" stroke-linecap="round" stroke-linejoin="round"/>
<path d="M326.54,507.5 L336.46,507.5 L336.46,521 L326.54,521 L326.54,507.5M330.91,508.7 L328.43,512.6M329.85,510.5 L333.62,510.5 L329.14,516.2M330.32,512 L334.8,516.2M330.79,515.6 L332.44,516.8M330.08,518 L332.92,519.5" fill="none" stroke="#000" stroke-width="1.15" stroke-linecap="round" stroke-linejoin="round"/>
<text x="345.1" y="519.8" font-size="10.3" textLength="19.6" lengthAdjust="spacingAndGlyphs" class="b">1:50</text>
<line x1="217" y1="526" x2="365.8" y2="526" stroke="#000" stroke-width="2" shape-rendering="crispEdges"/>
<line x1="217" y1="528.5" x2="365.8" y2="528.5" stroke="#000" stroke-width="1" shape-rendering="crispEdges"/>
</g>
<g transform="translate(0 608)">
<rect x="166.5" y="41.5" width="227" height="421" fill="none" stroke="#000" stroke-width="1" shape-rendering="crispEdges" stroke-dasharray="11 4"/>
<rect x="182.4" y="92.3" width="8.2" height="352.7" fill="url(#hw)" stroke="none" stroke-width="0" shape-rendering="crispEdges"/>
<line x1="182.5" y1="92.3" x2="182.5" y2="445" stroke="#000" stroke-width="1" shape-rendering="crispEdges"/>
<line x1="186.5" y1="98" x2="186.5" y2="440" stroke="#444" stroke-width="1" stroke-dasharray="40 6 60 8" shape-rendering="crispEdges"/>
<line x1="191" y1="92.3" x2="191" y2="445.5" stroke="#000" stroke-width="2" shape-rendering="crispEdges"/>
<rect x="166.5" y="243.9" width="15.9" height="9.2" fill="url(#hw)" stroke="none" stroke-width="0" shape-rendering="crispEdges"/>
<line x1="166.5" y1="244" x2="182.4" y2="244" stroke="#000" stroke-width="2" shape-rendering="crispEdges"/>
<line x1="166.5" y1="253.5" x2="182.4" y2="253.5" stroke="#000" stroke-width="1" shape-rendering="crispEdges"/>
<line x1="166.5" y1="243.9" x2="166.5" y2="253.1" stroke="#000" stroke-width="1" shape-rendering="crispEdges"/>
<line x1="182.4" y1="247.5" x2="193" y2="247.5" stroke="#000" stroke-width="1" shape-rendering="crispEdges"/>
<line x1="166.5" y1="84.5" x2="349.7" y2="84.5" stroke="#000" stroke-width="1" shape-rendering="crispEdges"/>
<line x1="166.5" y1="87.5" x2="349.7" y2="87.5" stroke="#000" stroke-width="1" shape-rendering="crispEdges"/>
<line x1="166.5" y1="90.5" x2="349.7" y2="90.5" stroke="#000" stroke-width="1" shape-rendering="crispEdges"/>
<line x1="166.5" y1="92.5" x2="349.7" y2="92.5" stroke="#000" stroke-width="1" shape-rendering="crispEdges"/>
<text x="222.8" y="75.6" font-size="9.6" textLength="21.5" lengthAdjust="spacingAndGlyphs" class="b">C1436</text>
<text x="305.6" y="75.6" font-size="9.6" textLength="21.5" lengthAdjust="spacingAndGlyphs" class="b">C1436</text>
<rect x="182.4" y="61.7" width="22.4" height="30.9" fill="#fff" stroke="none" stroke-width="0" shape-rendering="crispEdges"/>
<rect x="182" y="62" width="23" height="31" fill="url(#hcol)" stroke="#000" stroke-width="2" shape-rendering="crispEdges"/>
<rect x="190.5" y="69.5" width="6" height="16" fill="#fff" stroke="#000" stroke-width="1" shape-rendering="crispEdges"/>
<rect x="264.4" y="61.7" width="23.1" height="30.9" fill="#fff" stroke="none" stroke-width="0" shape-rendering="crispEdges"/>
<rect x="264" y="62" width="24" height="31" fill="url(#hcol)" stroke="#000" stroke-width="2" shape-rendering="crispEdges"/>
<rect x="274.5" y="69.5" width="6" height="16" fill="#fff" stroke="#000" stroke-width="1" shape-rendering="crispEdges"/>
<rect x="183.3" y="90" width="6.3" height="6" fill="url(#hw)" stroke="none" stroke-width="0" shape-rendering="crispEdges"/>
<line x1="190.6" y1="93" x2="204.8" y2="93" stroke="#000" stroke-width="2" shape-rendering="crispEdges"/>
<line x1="345" y1="46.5" x2="368" y2="46.5" stroke="#000" stroke-width="1" shape-rendering="crispEdges"/>
<path d="M368,46.8 L369.3,42.8 L370.6,50 L371.4,46.8 L393.6,46.8" fill="none" stroke="#000" stroke-width="0.8" stroke-linejoin="miter"/>
<line x1="349.5" y1="46.8" x2="349.5" y2="52.5" stroke="#000" stroke-width="1" shape-rendering="crispEdges"/>
<line x1="354.5" y1="46.8" x2="354.5" y2="52.5" stroke="#000" stroke-width="1" shape-rendering="crispEdges"/>
<rect x="349.7" y="52.5" width="26.7" height="26.7" fill="#fff" stroke="none" stroke-width="0" shape-rendering="crispEdges"/>
<rect x="350" y="52" width="26" height="27" fill="url(#hc)" stroke="#000" stroke-width="2" shape-rendering="crispEdges"/>
<line x1="349.7" y1="53" x2="376.4" y2="53" stroke="#000" stroke-width="2" shape-rendering="crispEdges"/>
<line x1="376" y1="52.5" x2="376" y2="79.2" stroke="#000" stroke-width="2" shape-rendering="crispEdges"/>
<line x1="349.7" y1="79.5" x2="393.6" y2="79.5" stroke="#000" stroke-width="1" shape-rendering="crispEdges"/>
<line x1="345" y1="81.5" x2="351" y2="81.5" stroke="#000" stroke-width="1" shape-rendering="crispEdges"/>
<line x1="347" y1="84.5" x2="393.6" y2="84.5" stroke="#000" stroke-width="1" shape-rendering="crispEdges"/>
<rect x="351.3" y="84.4" width="23" height="21.7" fill="#fff" stroke="none" stroke-width="0" shape-rendering="crispEdges"/>
<rect x="351.5" y="84.5" width="23" height="22" fill="url(#hc)" stroke="#000" stroke-width="1" shape-rendering="crispEdges"/>
<line x1="374" y1="84.4" x2="374" y2="106.1" stroke="#000" stroke-width="2" shape-rendering="crispEdges"/>
<line x1="362.5" y1="34" x2="362.5" y2="482" stroke="#000" stroke-width="1" shape-rendering="crispEdges"/>
<circle cx="362.5" cy="26.2" r="7.8" fill="#fff" stroke="#000" stroke-width="0.9"/>
<text x="362.5" y="28.5" font-size="6.5" textLength="10" lengthAdjust="spacingAndGlyphs" text-anchor="middle" fill="#111">3-3</text>
<line x1="125.5" y1="101.5" x2="352" y2="101.5" stroke="#000" stroke-width="1" stroke-dasharray="70 4 3 4" shape-rendering="crispEdges"/>
<line x1="125.5" y1="436.5" x2="352" y2="436.5" stroke="#000" stroke-width="1" stroke-dasharray="70 4 3 4" shape-rendering="crispEdges"/>
<circle cx="118.3" cy="101.6" r="7.5" fill="#fff" stroke="#000" stroke-width="0.9"/>
<text x="118.3" y="103.9" font-size="6.5" textLength="10" lengthAdjust="spacingAndGlyphs" text-anchor="middle" fill="#111">3-D</text>
<circle cx="118.3" cy="436.3" r="7.5" fill="#fff" stroke="#000" stroke-width="0.9"/>
<text x="118.3" y="438.6" font-size="6.5" textLength="10" lengthAdjust="spacingAndGlyphs" text-anchor="middle" fill="#111">3-C</text>
<line x1="374.5" y1="436.5" x2="393.6" y2="436.5" stroke="#000" stroke-width="1" shape-rendering="crispEdges"/>
<rect x="365.8" y="106.1" width="8.4" height="347.3" fill="url(#hw)" stroke="none" stroke-width="0" shape-rendering="crispEdges"/>
<line x1="365.5" y1="106.1" x2="365.5" y2="432" stroke="#000" stroke-width="1" shape-rendering="crispEdges"/>
<line x1="374" y1="106.1" x2="374" y2="453.4" stroke="#000" stroke-width="2" shape-rendering="crispEdges"/>
<rect x="166.5" y="445" width="105.1" height="8.4" fill="url(#hw2)" stroke="none" stroke-width="0" shape-rendering="crispEdges"/>
<line x1="166.5" y1="445" x2="186" y2="445" stroke="#000" stroke-width="2" shape-rendering="crispEdges"/>
<line x1="190.6" y1="445" x2="271.6" y2="445" stroke="#000" stroke-width="2" shape-rendering="crispEdges"/>
<line x1="166.5" y1="453" x2="271.6" y2="453" stroke="#000" stroke-width="2" shape-rendering="crispEdges"/>
<line x1="166.5" y1="445" x2="166.5" y2="453.4" stroke="#000" stroke-width="1" shape-rendering="crispEdges"/>
<line x1="272" y1="445" x2="272" y2="453.4" stroke="#000" stroke-width="2" shape-rendering="crispEdges"/>
<rect x="273.5" y="417.5" width="3" height="35" fill="none" stroke="#000" stroke-width="1" shape-rendering="crispEdges"/>
<line x1="273.8" y1="430.5" x2="276.2" y2="430.5" stroke="#000" stroke-width="1" shape-rendering="crispEdges"/>
<line x1="273.8" y1="433.5" x2="276.2" y2="433.5" stroke="#000" stroke-width="1" shape-rendering="crispEdges"/>
<line x1="273.8" y1="437.5" x2="276.2" y2="437.5" stroke="#000" stroke-width="1" shape-rendering="crispEdges"/>
<line x1="273.8" y1="441.5" x2="276.2" y2="441.5" stroke="#000" stroke-width="1" shape-rendering="crispEdges"/>
<line x1="273.8" y1="445.5" x2="276.2" y2="445.5" stroke="#000" stroke-width="1" shape-rendering="crispEdges"/>
<line x1="273.8" y1="449.5" x2="276.2" y2="449.5" stroke="#000" stroke-width="1" shape-rendering="crispEdges"/>
<rect x="270.5" y="418.5" width="3" height="11" fill="none" stroke="#000" stroke-width="1" shape-rendering="crispEdges"/>
<rect x="276.5" y="418.5" width="3" height="11" fill="none" stroke="#000" stroke-width="1" shape-rendering="crispEdges"/>
<line x1="270.8" y1="454.5" x2="276.2" y2="454.5" stroke="#000" stroke-width="1" shape-rendering="crispEdges"/>
<line x1="270.5" y1="452.5" x2="270.5" y2="454.4" stroke="#000" stroke-width="1" shape-rendering="crispEdges"/>
<line x1="276.5" y1="452.5" x2="276.5" y2="454.4" stroke="#000" stroke-width="1" shape-rendering="crispEdges"/>
<rect x="346.5" y="417.5" width="3" height="35" fill="none" stroke="#000" stroke-width="1" shape-rendering="crispEdges"/>
<line x1="349" y1="430.5" x2="346.6" y2="430.5" stroke="#000" stroke-width="1" shape-rendering="crispEdges"/>
<line x1="349" y1="433.5" x2="346.6" y2="433.5" stroke="#000" stroke-width="1" shape-rendering="crispEdges"/>
<line x1="349" y1="437.5" x2="346.6" y2="437.5" stroke="#000" stroke-width="1" shape-rendering="crispEdges"/>
<line x1="349" y1="441.5" x2="346.6" y2="441.5" stroke="#000" stroke-width="1" shape-rendering="crispEdges"/>
<line x1="349" y1="445.5" x2="346.6" y2="445.5" stroke="#000" stroke-width="1" shape-rendering="crispEdges"/>
<line x1="349" y1="449.5" x2="346.6" y2="449.5" stroke="#000" stroke-width="1" shape-rendering="crispEdges"/>
<rect x="349.5" y="418.5" width="2" height="11" fill="none" stroke="#000" stroke-width="1" shape-rendering="crispEdges"/>
<rect x="343.5" y="418.5" width="3" height="11" fill="none" stroke="#000" stroke-width="1" shape-rendering="crispEdges"/>
<line x1="352" y1="454.5" x2="346.6" y2="454.5" stroke="#000" stroke-width="1" shape-rendering="crispEdges"/>
<line x1="352.5" y1="452.5" x2="352.5" y2="454.4" stroke="#000" stroke-width="1" shape-rendering="crispEdges"/>
<line x1="346.5" y1="452.5" x2="346.5" y2="454.4" stroke="#000" stroke-width="1" shape-rendering="crispEdges"/>
<path d="M276.4,417.4 A34.8,29.6 0 0 1 311.2,447" fill="none" stroke="#000" stroke-width="0.8"/>
<path d="M346.8,417.4 A34.8,29.6 0 0 0 311.9,447" fill="none" stroke="#000" stroke-width="0.8"/>
<line x1="311.5" y1="437.5" x2="311.5" y2="449.4" stroke="#000" stroke-width="1" shape-rendering="crispEdges"/>
<text x="296.4" y="459.6" font-size="10" textLength="31.6" lengthAdjust="spacingAndGlyphs" class="b">FMZ1822</text>
<rect x="351.5" y="431.5" width="23" height="22" fill="url(#hc)" stroke="#000" stroke-width="1" shape-rendering="crispEdges"/>
<line x1="351.3" y1="432" x2="374.2" y2="432" stroke="#000" stroke-width="2" shape-rendering="crispEdges"/>
<path d="M366.2,389.2 L373.9,389.2 L373.9,420.6 L366.2,420.6Z" fill="#000" stroke="#000" stroke-width="0.5" stroke-linejoin="miter"/>
<path d="M367.4,390.2 Q369.4,401.2 371.3,409.2 L371.3,390.2 Z" fill="#fff" stroke="#fff" stroke-width="0.1"/>
<path d="M374.7,396.2 L391.7,405.4 L374.7,414.6Z" fill="none" stroke="#000" stroke-width="0.8" stroke-linejoin="miter" stroke-dasharray="2.2 1.6"/>
<rect x="377.5" y="402.5" width="6" height="6" fill="#555" stroke="#000" stroke-width="1" shape-rendering="crispEdges"/>
<circle cx="358.4" cy="425.4" r="2.9" fill="none" stroke="#000" stroke-width="0.8"/>
<line x1="132.5" y1="101.6" x2="132.5" y2="436.3" stroke="#000" stroke-width="1" shape-rendering="crispEdges"/>
<line x1="150.5" y1="92.3" x2="150.5" y2="445.2" stroke="#000" stroke-width="1" shape-rendering="crispEdges"/>
<line x1="144.5" y1="92.5" x2="182.4" y2="92.5" stroke="#000" stroke-width="1" shape-rendering="crispEdges"/>
<line x1="145.6" y1="445.5" x2="166.5" y2="445.5" stroke="#000" stroke-width="1" shape-rendering="crispEdges"/>
<line x1="185.5" y1="476.5" x2="363.8" y2="476.5" stroke="#000" stroke-width="1" shape-rendering="crispEdges"/>
<line x1="186.5" y1="453.4" x2="186.5" y2="482" stroke="#000" stroke-width="1" shape-rendering="crispEdges"/>
<text x="275" y="474.2" font-size="9.4" textLength="14.5" lengthAdjust="spacingAndGlyphs" text-anchor="middle" fill="#505050">3950</text>
<line x1="283.6" y1="186.5" x2="362.5" y2="186.5" stroke="#000" stroke-width="1" shape-rendering="crispEdges"/>
<line x1="283.6" y1="198.5" x2="362.5" y2="198.5" stroke="#000" stroke-width="1" shape-rendering="crispEdges"/>
<line x1="283.6" y1="210.5" x2="362.5" y2="210.5" stroke="#000" stroke-width="1" shape-rendering="crispEdges"/>
<line x1="283.6" y1="223.5" x2="362.5" y2="223.5" stroke="#000" stroke-width="1" shape-rendering="crispEdges"/>
<line x1="283.6" y1="235.5" x2="362.5" y2="235.5" stroke="#000" stroke-width="1" shape-rendering="crispEdges"/>
<line x1="283.6" y1="248.5" x2="362.5" y2="248.5" stroke="#000" stroke-width="1" shape-rendering="crispEdges"/>
<line x1="283.6" y1="260.5" x2="362.5" y2="260.5" stroke="#000" stroke-width="1" shape-rendering="crispEdges"/>
<line x1="283.6" y1="273.5" x2="362.5" y2="273.5" stroke="#000" stroke-width="1" shape-rendering="crispEdges"/>
<line x1="283.6" y1="285.5" x2="362.5" y2="285.5" stroke="#000" stroke-width="1" shape-rendering="crispEdges"/>
<line x1="283.6" y1="298.5" x2="362.5" y2="298.5" stroke="#000" stroke-width="1" shape-rendering="crispEdges"/>
<line x1="283.6" y1="310.5" x2="362.5" y2="310.5" stroke="#000" stroke-width="1" shape-rendering="crispEdges"/>
<line x1="283.6" y1="323.5" x2="362.5" y2="323.5" stroke="#000" stroke-width="1" shape-rendering="crispEdges"/>
<line x1="283.6" y1="335.5" x2="362.5" y2="335.5" stroke="#000" stroke-width="1" shape-rendering="crispEdges"/>
<line x1="283.6" y1="348.5" x2="362.5" y2="348.5" stroke="#000" stroke-width="1" shape-rendering="crispEdges"/>
<line x1="191.5" y1="186.5" x2="271.4" y2="186.5" stroke="#000" stroke-width="1" shape-rendering="crispEdges"/>
<line x1="191.5" y1="198.5" x2="271.4" y2="198.5" stroke="#000" stroke-width="1" shape-rendering="crispEdges"/>
<line x1="191.5" y1="210.5" x2="271.4" y2="210.5" stroke="#000" stroke-width="1" shape-rendering="crispEdges"/>
<line x1="191.5" y1="223.5" x2="271.4" y2="223.5" stroke="#000" stroke-width="1" shape-rendering="crispEdges"/>
<line x1="191.5" y1="235.5" x2="271.4" y2="235.5" stroke="#000" stroke-width="1" shape-rendering="crispEdges"/>
<line x1="191.5" y1="248.5" x2="271.4" y2="248.5" stroke="#000" stroke-width="1" shape-rendering="crispEdges"/>
<line x1="191.5" y1="260.5" x2="271.4" y2="260.5" stroke="#000" stroke-width="1" shape-rendering="crispEdges"/>
<line x1="191.5" y1="273.5" x2="271.4" y2="273.5" stroke="#000" stroke-width="1" shape-rendering="crispEdges"/>
<line x1="191.5" y1="285.5" x2="271.4" y2="285.5" stroke="#000" stroke-width="1" shape-rendering="crispEdges"/>
<line x1="191.5" y1="298.5" x2="271.4" y2="298.5" stroke="#000" stroke-width="1" shape-rendering="crispEdges"/>
<line x1="191.5" y1="310.5" x2="271.4" y2="310.5" stroke="#000" stroke-width="1" shape-rendering="crispEdges"/>
<line x1="191.5" y1="323.5" x2="271.4" y2="323.5" stroke="#000" stroke-width="1" shape-rendering="crispEdges"/>
<line x1="191.5" y1="335.5" x2="271.4" y2="335.5" stroke="#000" stroke-width="1" shape-rendering="crispEdges"/>
<line x1="191.5" y1="348.5" x2="271.4" y2="348.5" stroke="#000" stroke-width="1" shape-rendering="crispEdges"/>
<path d="M232.4,272.8 L232.4,138.7 L321.5,138.7 L321.5,355.1" fill="none" stroke="#000" stroke-width="0.9" stroke-linejoin="miter"/>
<line x1="232" y1="279" x2="232" y2="282.2" stroke="#000" stroke-width="2" shape-rendering="crispEdges"/>
<line x1="232" y1="302.2" x2="232" y2="305.4" stroke="#000" stroke-width="2" shape-rendering="crispEdges"/>
<line x1="232.5" y1="306.8" x2="232.5" y2="355.1" stroke="#000" stroke-width="1" shape-rendering="crispEdges"/>
<path d="M231.29,357.78 L231.29,364.24M231.29,360.59 L233.36,360.59M228.88,364.24 L233.92,364.24" fill="none" stroke="#000" stroke-width="0.8" stroke-linecap="round" stroke-linejoin="round"/>
<path d="M318.56,358.31 L323.24,358.31M320.8,358.31 L320.8,364.77M321.11,360.29 L322.46,361.81" fill="none" stroke="#000" stroke-width="0.8" stroke-linecap="round" stroke-linejoin="round"/>
<rect x="271.5" y="179.5" width="12" height="175" fill="#fff" stroke="#000" stroke-width="1" shape-rendering="crispEdges"/>
<rect x="273.5" y="182.5" width="7" height="168" fill="none" stroke="#000" stroke-width="1" shape-rendering="crispEdges"/>
<path d="M192,312.2 L273.4,266.7 L273.4,272.1 L192,317.6" fill="#fff" stroke="#000" stroke-width="0.9" stroke-linejoin="miter"/>
<g transform="rotate(-29 232.5 292)">
<rect x="229.9" y="288.8" width="5.2" height="6.4" fill="#fff" stroke="none" stroke-width="0" shape-rendering="crispEdges"/>
<path d="M229.9,288.4 L229.9,291 L235.1,287 L229.9,297 L235.1,293 L235.1,295.6" fill="none" stroke="#000" stroke-width="0.9" stroke-linejoin="miter"/>
</g>
<line x1="190.8" y1="380.5" x2="362.4" y2="380.5" stroke="#000" stroke-width="1" shape-rendering="crispEdges"/>
<line x1="273.5" y1="355.1" x2="273.5" y2="384.2" stroke="#000" stroke-width="1" shape-rendering="crispEdges"/>
<line x1="280.5" y1="355.1" x2="280.5" y2="384.2" stroke="#000" stroke-width="1" shape-rendering="crispEdges"/>
<text x="232.6" y="377.6" font-size="9.4" textLength="14.5" lengthAdjust="spacingAndGlyphs" text-anchor="middle" fill="#505050">1850</text>
<text x="278.6" y="377.6" font-size="9.4" textLength="8.5" lengthAdjust="spacingAndGlyphs" text-anchor="middle" fill="#505050">150</text>
<text x="321.8" y="377.6" font-size="9.4" textLength="14.5" lengthAdjust="spacingAndGlyphs" text-anchor="middle" fill="#505050">1850</text>
<rect x="374.5" y="131.5" width="19" height="4" fill="#000" stroke="#000" stroke-width="1" shape-rendering="crispEdges"/>
<line x1="143.8" y1="186.5" x2="174.6" y2="186.5" stroke="#000" stroke-width="1" shape-rendering="crispEdges"/>
<line x1="143.8" y1="348.5" x2="174.6" y2="348.5" stroke="#000" stroke-width="1" shape-rendering="crispEdges"/>
<text x="147.6" y="81.5" font-size="9.4" textLength="10.3" lengthAdjust="spacingAndGlyphs" text-anchor="middle" transform="rotate(-90 147.6 81.5)" fill="#505050">250</text>
<text x="147.6" y="144" font-size="9.4" textLength="13.6" lengthAdjust="spacingAndGlyphs" text-anchor="middle" transform="rotate(-90 147.6 144)" fill="#505050">1900</text>
<text x="129.8" y="268" font-size="9.4" textLength="13.6" lengthAdjust="spacingAndGlyphs" text-anchor="middle" transform="rotate(-90 129.8 268)" fill="#505050">7500</text>
<text x="147.6" y="267" font-size="9.4" textLength="45" lengthAdjust="spacingAndGlyphs" text-anchor="middle" transform="rotate(-90 147.6 267)" fill="#505050">280x13=3640</text>
<text x="147.6" y="392" font-size="9.4" textLength="13.6" lengthAdjust="spacingAndGlyphs" text-anchor="middle" transform="rotate(-90 147.6 392)" fill="#505050">1950</text>
<text x="147.6" y="453.5" font-size="9.4" textLength="10.3" lengthAdjust="spacingAndGlyphs" text-anchor="middle" transform="rotate(-90 147.6 453.5)" fill="#505050">300</text>
<line x1="273.1" y1="127.5" x2="309" y2="127.5" stroke="#000" stroke-width="1" shape-rendering="crispEdges"/>
<path d="M261.5,128.2 L274.3,128.2 L268,134.6Z" fill="none" stroke="#000" stroke-width="0.8" stroke-linejoin="miter"/>
<text x="309" y="125.2" font-size="9.3" textLength="20" lengthAdjust="spacingAndGlyphs" text-anchor="end" class="b">8.800</text>
<text x="310.5" y="135.6" font-size="9.3" textLength="15" lengthAdjust="spacingAndGlyphs" text-anchor="end" class="b">.800</text>
<path d="M268.04,398.09 L270.56,398.09M269.3,395.78 L269.3,404.81M269.3,398.28 L268.04,401.74M269.3,398.86 L270.42,400.78M272.66,395.59 L272.66,399.62M270.84,397.51 L274.69,397.51M271.4,395.98 L271.96,397.03M274.06,395.98 L273.36,397.03M272.52,397.7 L270.98,399.43M272.8,397.7 L274.48,399.43M270.7,401.35 L274.76,401.35M272.24,399.82 L271.4,402.7 L273.92,404.62M273.92,400.2 L272.8,403.08 L270.84,404.71" fill="none" stroke="#000" stroke-width="0.9" stroke-linecap="round" stroke-linejoin="round"/>
<path d="M275.24,398.09 L277.76,398.09M276.5,395.78 L276.5,404.81M276.5,398.28 L275.24,401.74M276.5,398.86 L277.62,400.78M278.74,395.78 L279.3,397.03M281.26,395.78 L280.56,397.03M278.32,398.09 L281.54,398.09 L281.54,399.72 L278.6,399.72 L278.39,401.64 L281.68,401.64 L281.54,403.66 L280.84,403.27M280,397.03 L280,404.81M279.86,401.74 L278.04,404.33" fill="none" stroke="#000" stroke-width="0.9" stroke-linecap="round" stroke-linejoin="round"/>
<line x1="282.4" y1="401.5" x2="288.8" y2="401.5" stroke="#000" stroke-width="1" shape-rendering="crispEdges"/>
<line x1="295.3" y1="406.5" x2="328" y2="406.5" stroke="#000" stroke-width="1" shape-rendering="crispEdges"/>
<path d="M295.3,407.1 L308.3,407.1 L301.8,412.9Z" fill="none" stroke="#000" stroke-width="0.8" stroke-linejoin="miter"/>
<text x="342.4" y="404.3" font-size="9.3" textLength="19.5" lengthAdjust="spacingAndGlyphs" text-anchor="end" class="b">8.800</text>
<text x="344" y="417.2" font-size="9.3" textLength="15.5" lengthAdjust="spacingAndGlyphs" text-anchor="end" class="b">.800</text>
<path d="M218.14,510.8 L222.54,510.8M220.34,507.2 L220.34,521.3M220.34,511.1 L218.14,516.5M220.34,512 L222.29,515M226.2,506.9 L226.2,513.2M223.02,509.9 L229.73,509.9M224,507.5 L224.98,509.15M228.64,507.5 L227.42,509.15M225.95,510.2 L223.27,512.9M226.44,510.2 L229.37,512.9M222.78,515.9 L229.86,515.9M225.46,513.5 L224,518 L228.39,521M228.39,514.1 L226.44,518.6 L223.02,521.15" fill="none" stroke="#000" stroke-width="1.15" stroke-linecap="round" stroke-linejoin="round"/>
<path d="M231.44,510.8 L235.84,510.8M233.64,507.2 L233.64,521.3M233.64,511.1 L231.44,516.5M233.64,512 L235.59,515M237.54,507.2 L238.52,509.15M241.94,507.2 L240.72,509.15M236.81,510.8 L242.42,510.8 L242.42,513.35 L237.3,513.35 L236.93,516.35 L242.67,516.35 L242.42,519.5 L241.2,518.9M239.74,509.15 L239.74,521.3M239.5,516.5 L236.32,520.55" fill="none" stroke="#000" stroke-width="1.15" stroke-linecap="round" stroke-linejoin="round"/>
<path d="M245.11,514.4 L256.09,514.4" fill="none" stroke="#000" stroke-width="1.15" stroke-linecap="round" stroke-linejoin="round"/>
<path d="M273.82,508.85 L282.78,508.85M274.76,514.1 L281.84,514.1M272.99,519.8 L283.61,519.8" fill="none" stroke="#000" stroke-width="1.15" stroke-linecap="round" stroke-linejoin="round"/>
<path d="M287.47,507.8 L296.08,507.8 L296.08,511.1 L287.47,511.1M287.47,507.8 L287.47,515.6 L286.05,520.85M289.48,513.8 L295.73,513.8M288.3,516.5 L297.03,516.5M292.19,516.5 L289.83,520.1 L295.38,519.8M294.2,518 L296.32,521" fill="none" stroke="#000" stroke-width="1.15" stroke-linecap="round" stroke-linejoin="round"/>
<path d="M300.18,508.4 L309.62,508.4M302.07,510.35 L303.01,513.35M307.73,510.35 L306.79,513.35M299.47,515.3 L310.33,515.3M304.9,508.4 L304.9,521.3" fill="none" stroke="#000" stroke-width="1.15" stroke-linecap="round" stroke-linejoin="round"/>
<path d="M312.77,507.8 L323.63,507.8M318.2,507.8 L317.26,510.5M313.72,510.5 L322.68,510.5 L322.68,521 L313.72,521 L313.72,510.5M316.78,510.5 L316.78,521M319.62,510.5 L319.62,521M316.78,513.8 L319.62,513.8M316.78,517.1 L319.62,517.1" fill="none" stroke="#000" stroke-width="1.15" stroke-linecap="round" stroke-linejoin="round"/>
<path d="M326.54,507.5 L336.46,507.5 L336.46,521 L326.54,521 L326.54,507.5M330.91,508.7 L328.43,512.6M329.85,510.5 L333.62,510.5 L329.14,516.2M330.32,512 L334.8,516.2M330.79,515.6 L332.44,516.8M330.08,518 L332.92,519.5" fill="none" stroke="#000" stroke-width="1.15" stroke-linecap="round" stroke-linejoin="round"/>
<text x="345.1" y="519.8" font-size="10.3" textLength="19.6" lengthAdjust="spacingAndGlyphs" class="b">1:50</text>
<line x1="217" y1="526" x2="365.8" y2="526" stroke="#000" stroke-width="2" shape-rendering="crispEdges"/>
<line x1="217" y1="528.5" x2="365.8" y2="528.5" stroke="#000" stroke-width="1" shape-rendering="crispEdges"/>
</g>
<g transform="translate(402 608)">
<rect x="166.5" y="41.5" width="227" height="421" fill="none" stroke="#000" stroke-width="1" shape-rendering="crispEdges" stroke-dasharray="11 4"/>
<rect x="182.4" y="92.3" width="8.2" height="352.7" fill="url(#hw)" stroke="none" stroke-width="0" shape-rendering="crispEdges"/>
<line x1="182.5" y1="92.3" x2="182.5" y2="445" stroke="#000" stroke-width="1" shape-rendering="crispEdges"/>
<line x1="186.5" y1="98" x2="186.5" y2="440" stroke="#444" stroke-width="1" stroke-dasharray="40 6 60 8" shape-rendering="crispEdges"/>
<line x1="191" y1="92.3" x2="191" y2="445.5" stroke="#000" stroke-width="2" shape-rendering="crispEdges"/>
<rect x="166.5" y="243.9" width="15.9" height="9.2" fill="url(#hw)" stroke="none" stroke-width="0" shape-rendering="crispEdges"/>
<line x1="166.5" y1="244" x2="182.4" y2="244" stroke="#000" stroke-width="2" shape-rendering="crispEdges"/>
<line x1="166.5" y1="253.5" x2="182.4" y2="253.5" stroke="#000" stroke-width="1" shape-rendering="crispEdges"/>
<line x1="166.5" y1="243.9" x2="166.5" y2="253.1" stroke="#000" stroke-width="1" shape-rendering="crispEdges"/>
<line x1="182.4" y1="247.5" x2="193" y2="247.5" stroke="#000" stroke-width="1" shape-rendering="crispEdges"/>
<line x1="166.5" y1="84.5" x2="349.7" y2="84.5" stroke="#000" stroke-width="1" shape-rendering="crispEdges"/>
<line x1="166.5" y1="87.5" x2="349.7" y2="87.5" stroke="#000" stroke-width="1" shape-rendering="crispEdges"/>
<line x1="166.5" y1="90.5" x2="349.7" y2="90.5" stroke="#000" stroke-width="1" shape-rendering="crispEdges"/>
<line x1="166.5" y1="92.5" x2="349.7" y2="92.5" stroke="#000" stroke-width="1" shape-rendering="crispEdges"/>
<text x="222.8" y="75.6" font-size="9.6" textLength="21.5" lengthAdjust="spacingAndGlyphs" class="b">C1436</text>
<text x="305.6" y="75.6" font-size="9.6" textLength="21.5" lengthAdjust="spacingAndGlyphs" class="b">C1436</text>
<rect x="182.4" y="61.7" width="22.4" height="30.9" fill="#fff" stroke="none" stroke-width="0" shape-rendering="crispEdges"/>
<rect x="182" y="62" width="23" height="31" fill="url(#hcol)" stroke="#000" stroke-width="2" shape-rendering="crispEdges"/>
<rect x="190.5" y="69.5" width="6" height="16" fill="#fff" stroke="#000" stroke-width="1" shape-rendering="crispEdges"/>
<rect x="264.4" y="61.7" width="23.1" height="30.9" fill="#fff" stroke="none" stroke-width="0" shape-rendering="crispEdges"/>
<rect x="264" y="62" width="24" height="31" fill="url(#hcol)" stroke="#000" stroke-width="2" shape-rendering="crispEdges"/>
<rect x="274.5" y="69.5" width="6" height="16" fill="#fff" stroke="#000" stroke-width="1" shape-rendering="crispEdges"/>
<rect x="183.3" y="90" width="6.3" height="6" fill="url(#hw)" stroke="none" stroke-width="0" shape-rendering="crispEdges"/>
<line x1="190.6" y1="93" x2="204.8" y2="93" stroke="#000" stroke-width="2" shape-rendering="crispEdges"/>
<line x1="345" y1="46.5" x2="368" y2="46.5" stroke="#000" stroke-width="1" shape-rendering="crispEdges"/>
<path d="M368,46.8 L369.3,42.8 L370.6,50 L371.4,46.8 L393.6,46.8" fill="none" stroke="#000" stroke-width="0.8" stroke-linejoin="miter"/>
<line x1="349.5" y1="46.8" x2="349.5" y2="52.5" stroke="#000" stroke-width="1" shape-rendering="crispEdges"/>
<line x1="354.5" y1="46.8" x2="354.5" y2="52.5" stroke="#000" stroke-width="1" shape-rendering="crispEdges"/>
<rect x="349.7" y="52.5" width="26.7" height="26.7" fill="#fff" stroke="none" stroke-width="0" shape-rendering="crispEdges"/>
<rect x="350" y="52" width="26" height="27" fill="url(#hc)" stroke="#000" stroke-width="2" shape-rendering="crispEdges"/>
<line x1="349.7" y1="53" x2="376.4" y2="53" stroke="#000" stroke-width="2" shape-rendering="crispEdges"/>
<line x1="376" y1="52.5" x2="376" y2="79.2" stroke="#000" stroke-width="2" shape-rendering="crispEdges"/>
<line x1="349.7" y1="79.5" x2="393.6" y2="79.5" stroke="#000" stroke-width="1" shape-rendering="crispEdges"/>
<line x1="345" y1="81.5" x2="351" y2="81.5" stroke="#000" stroke-width="1" shape-rendering="crispEdges"/>
<line x1="347" y1="84.5" x2="393.6" y2="84.5" stroke="#000" stroke-width="1" shape-rendering="crispEdges"/>
<rect x="351.3" y="84.4" width="23" height="21.7" fill="#fff" stroke="none" stroke-width="0" shape-rendering="crispEdges"/>
<rect x="351.5" y="84.5" width="23" height="22" fill="url(#hc)" stroke="#000" stroke-width="1" shape-rendering="crispEdges"/>
<line x1="374" y1="84.4" x2="374" y2="106.1" stroke="#000" stroke-width="2" shape-rendering="crispEdges"/>
<line x1="362.5" y1="34" x2="362.5" y2="482" stroke="#000" stroke-width="1" shape-rendering="crispEdges"/>
<circle cx="362.5" cy="26.2" r="7.8" fill="#fff" stroke="#000" stroke-width="0.9"/>
<text x="362.5" y="28.5" font-size="6.5" textLength="10" lengthAdjust="spacingAndGlyphs" text-anchor="middle" fill="#111">3-3</text>
<line x1="125.5" y1="101.5" x2="352" y2="101.5" stroke="#000" stroke-width="1" stroke-dasharray="70 4 3 4" shape-rendering="crispEdges"/>
<line x1="125.5" y1="436.5" x2="352" y2="436.5" stroke="#000" stroke-width="1" stroke-dasharray="70 4 3 4" shape-rendering="crispEdges"/>
<circle cx="118.3" cy="101.6" r="7.5" fill="#fff" stroke="#000" stroke-width="0.9"/>
<text x="118.3" y="103.9" font-size="6.5" textLength="10" lengthAdjust="spacingAndGlyphs" text-anchor="middle" fill="#111">3-D</text>
<circle cx="118.3" cy="436.3" r="7.5" fill="#fff" stroke="#000" stroke-width="0.9"/>
<text x="118.3" y="438.6" font-size="6.5" textLength="10" lengthAdjust="spacingAndGlyphs" text-anchor="middle" fill="#111">3-C</text>
<line x1="374.5" y1="101.5" x2="410" y2="101.5" stroke="#000" stroke-width="1" shape-rendering="crispEdges"/>
<line x1="374.5" y1="436.5" x2="410" y2="436.5" stroke="#000" stroke-width="1" shape-rendering="crispEdges"/>
<rect x="365.8" y="106.1" width="8.4" height="347.3" fill="url(#hw)" stroke="none" stroke-width="0" shape-rendering="crispEdges"/>
<line x1="365.5" y1="106.1" x2="365.5" y2="432" stroke="#000" stroke-width="1" shape-rendering="crispEdges"/>
<line x1="374" y1="106.1" x2="374" y2="453.4" stroke="#000" stroke-width="2" shape-rendering="crispEdges"/>
<rect x="166.5" y="445" width="105.1" height="8.4" fill="url(#hw2)" stroke="none" stroke-width="0" shape-rendering="crispEdges"/>
<line x1="166.5" y1="445" x2="186" y2="445" stroke="#000" stroke-width="2" shape-rendering="crispEdges"/>
<line x1="190.6" y1="445" x2="271.6" y2="445" stroke="#000" stroke-width="2" shape-rendering="crispEdges"/>
<line x1="166.5" y1="453" x2="271.6" y2="453" stroke="#000" stroke-width="2" shape-rendering="crispEdges"/>
<line x1="166.5" y1="445" x2="166.5" y2="453.4" stroke="#000" stroke-width="1" shape-rendering="crispEdges"/>
<line x1="272" y1="445" x2="272" y2="453.4" stroke="#000" stroke-width="2" shape-rendering="crispEdges"/>
<rect x="273.5" y="417.5" width="3" height="35" fill="none" stroke="#000" stroke-width="1" shape-rendering="crispEdges"/>
<line x1="273.8" y1="430.5" x2="276.2" y2="430.5" stroke="#000" stroke-width="1" shape-rendering="crispEdges"/>
<line x1="273.8" y1="433.5" x2="276.2" y2="433.5" stroke="#000" stroke-width="1" shape-rendering="crispEdges"/>
<line x1="273.8" y1="437.5" x2="276.2" y2="437.5" stroke="#000" stroke-width="1" shape-rendering="crispEdges"/>
<line x1="273.8" y1="441.5" x2="276.2" y2="441.5" stroke="#000" stroke-width="1" shape-rendering="crispEdges"/>
<line x1="273.8" y1="445.5" x2="276.2" y2="445.5" stroke="#000" stroke-width="1" shape-rendering="crispEdges"/>
<line x1="273.8" y1="449.5" x2="276.2" y2="449.5" stroke="#000" stroke-width="1" shape-rendering="crispEdges"/>
<rect x="270.5" y="418.5" width="3" height="11" fill="none" stroke="#000" stroke-width="1" shape-rendering="crispEdges"/>
<rect x="276.5" y="418.5" width="3" height="11" fill="none" stroke="#000" stroke-width="1" shape-rendering="crispEdges"/>
<line x1="270.8" y1="454.5" x2="276.2" y2="454.5" stroke="#000" stroke-width="1" shape-rendering="crispEdges"/>
<line x1="270.5" y1="452.5" x2="270.5" y2="454.4" stroke="#000" stroke-width="1" shape-rendering="crispEdges"/>
<line x1="276.5" y1="452.5" x2="276.5" y2="454.4" stroke="#000" stroke-width="1" shape-rendering="crispEdges"/>
<rect x="346.5" y="417.5" width="3" height="35" fill="none" stroke="#000" stroke-width="1" shape-rendering="crispEdges"/>
<line x1="349" y1="430.5" x2="346.6" y2="430.5" stroke="#000" stroke-width="1" shape-rendering="crispEdges"/>
<line x1="349" y1="433.5" x2="346.6" y2="433.5" stroke="#000" stroke-width="1" shape-rendering="crispEdges"/>
<line x1="349" y1="437.5" x2="346.6" y2="437.5" stroke="#000" stroke-width="1" shape-rendering="crispEdges"/>
<line x1="349" y1="441.5" x2="346.6" y2="441.5" stroke="#000" stroke-width="1" shape-rendering="crispEdges"/>
<line x1="349" y1="445.5" x2="346.6" y2="445.5" stroke="#000" stroke-width="1" shape-rendering="crispEdges"/>
<line x1="349" y1="449.5" x2="346.6" y2="449.5" stroke="#000" stroke-width="1" shape-rendering="crispEdges"/>
<rect x="349.5" y="418.5" width="2" height="11" fill="none" stroke="#000" stroke-width="1" shape-rendering="crispEdges"/>
<rect x="343.5" y="418.5" width="3" height="11" fill="none" stroke="#000" stroke-width="1" shape-rendering="crispEdges"/>
<line x1="352" y1="454.5" x2="346.6" y2="454.5" stroke="#000" stroke-width="1" shape-rendering="crispEdges"/>
<line x1="352.5" y1="452.5" x2="352.5" y2="454.4" stroke="#000" stroke-width="1" shape-rendering="crispEdges"/>
<line x1="346.5" y1="452.5" x2="346.5" y2="454.4" stroke="#000" stroke-width="1" shape-rendering="crispEdges"/>
<path d="M276.4,417.4 A34.8,29.6 0 0 1 311.2,447" fill="none" stroke="#000" stroke-width="0.8"/>
<path d="M346.8,417.4 A34.8,29.6 0 0 0 311.9,447" fill="none" stroke="#000" stroke-width="0.8"/>
<line x1="311.5" y1="437.5" x2="311.5" y2="449.4" stroke="#000" stroke-width="1" shape-rendering="crispEdges"/>
<text x="296.4" y="459.6" font-size="10" textLength="31.6" lengthAdjust="spacingAndGlyphs" class="b">FMZ1822</text>
<rect x="351.5" y="431.5" width="23" height="22" fill="url(#hc)" stroke="#000" stroke-width="1" shape-rendering="crispEdges"/>
<line x1="351.3" y1="432" x2="374.2" y2="432" stroke="#000" stroke-width="2" shape-rendering="crispEdges"/>
<path d="M366.2,389.2 L373.9,389.2 L373.9,420.6 L366.2,420.6Z" fill="#000" stroke="#000" stroke-width="0.5" stroke-linejoin="miter"/>
<path d="M367.4,390.2 Q369.4,401.2 371.3,409.2 L371.3,390.2 Z" fill="#fff" stroke="#fff" stroke-width="0.1"/>
<path d="M377.4,396.2 L394.4,405.4 L377.4,414.6Z" fill="none" stroke="#000" stroke-width="0.8" stroke-linejoin="miter"/>
<rect x="379.5" y="402.5" width="6" height="6" fill="#555" stroke="#000" stroke-width="1" shape-rendering="crispEdges"/>
<circle cx="358.4" cy="425.4" r="2.9" fill="none" stroke="#000" stroke-width="0.8"/>
<line x1="132.5" y1="101.6" x2="132.5" y2="436.3" stroke="#000" stroke-width="1" shape-rendering="crispEdges"/>
<line x1="150.5" y1="92.3" x2="150.5" y2="445.2" stroke="#000" stroke-width="1" shape-rendering="crispEdges"/>
<line x1="144.5" y1="92.5" x2="182.4" y2="92.5" stroke="#000" stroke-width="1" shape-rendering="crispEdges"/>
<line x1="145.6" y1="445.5" x2="166.5" y2="445.5" stroke="#000" stroke-width="1" shape-rendering="crispEdges"/>
<line x1="185.5" y1="476.5" x2="363.8" y2="476.5" stroke="#000" stroke-width="1" shape-rendering="crispEdges"/>
<line x1="186.5" y1="453.4" x2="186.5" y2="482" stroke="#000" stroke-width="1" shape-rendering="crispEdges"/>
<text x="275" y="474.2" font-size="9.4" textLength="14.5" lengthAdjust="spacingAndGlyphs" text-anchor="middle" fill="#505050">3950</text>
<line x1="283.6" y1="186.5" x2="362.5" y2="186.5" stroke="#000" stroke-width="1" shape-rendering="crispEdges"/>
<line x1="283.6" y1="198.5" x2="362.5" y2="198.5" stroke="#000" stroke-width="1" shape-rendering="crispEdges"/>
<line x1="283.6" y1="210.5" x2="362.5" y2="210.5" stroke="#000" stroke-width="1" shape-rendering="crispEdges"/>
<line x1="283.6" y1="223.5" x2="362.5" y2="223.5" stroke="#000" stroke-width="1" shape-rendering="crispEdges"/>
<line x1="283.6" y1="235.5" x2="362.5" y2="235.5" stroke="#000" stroke-width="1" shape-rendering="crispEdges"/>
<line x1="283.6" y1="248.5" x2="362.5" y2="248.5" stroke="#000" stroke-width="1" shape-rendering="crispEdges"/>
<line x1="283.6" y1="260.5" x2="362.5" y2="260.5" stroke="#000" stroke-width="1" shape-rendering="crispEdges"/>
<line x1="283.6" y1="273.5" x2="362.5" y2="273.5" stroke="#000" stroke-width="1" shape-rendering="crispEdges"/>
<line x1="283.6" y1="285.5" x2="362.5" y2="285.5" stroke="#000" stroke-width="1" shape-rendering="crispEdges"/>
<line x1="283.6" y1="298.5" x2="362.5" y2="298.5" stroke="#000" stroke-width="1" shape-rendering="crispEdges"/>
<line x1="283.6" y1="310.5" x2="362.5" y2="310.5" stroke="#000" stroke-width="1" shape-rendering="crispEdges"/>
<line x1="283.6" y1="323.5" x2="362.5" y2="323.5" stroke="#000" stroke-width="1" shape-rendering="crispEdges"/>
<line x1="283.6" y1="335.5" x2="362.5" y2="335.5" stroke="#000" stroke-width="1" shape-rendering="crispEdges"/>
<line x1="283.6" y1="348.5" x2="362.5" y2="348.5" stroke="#000" stroke-width="1" shape-rendering="crispEdges"/>
<line x1="191.5" y1="186.5" x2="271.4" y2="186.5" stroke="#000" stroke-width="1" shape-rendering="crispEdges"/>
<line x1="191.5" y1="198.5" x2="271.4" y2="198.5" stroke="#000" stroke-width="1" shape-rendering="crispEdges"/>
<line x1="191.5" y1="210.5" x2="271.4" y2="210.5" stroke="#000" stroke-width="1" shape-rendering="crispEdges"/>
<line x1="191.5" y1="223.5" x2="271.4" y2="223.5" stroke="#000" stroke-width="1" shape-rendering="crispEdges"/>
<line x1="191.5" y1="235.5" x2="271.4" y2="235.5" stroke="#000" stroke-width="1" shape-rendering="crispEdges"/>
<line x1="191.5" y1="248.5" x2="271.4" y2="248.5" stroke="#000" stroke-width="1" shape-rendering="crispEdges"/>
<line x1="191.5" y1="260.5" x2="271.4" y2="260.5" stroke="#000" stroke-width="1" shape-rendering="crispEdges"/>
<line x1="191.5" y1="273.5" x2="271.4" y2="273.5" stroke="#000" stroke-width="1" shape-rendering="crispEdges"/>
<line x1="191.5" y1="285.5" x2="271.4" y2="285.5" stroke="#000" stroke-width="1" shape-rendering="crispEdges"/>
<line x1="191.5" y1="298.5" x2="271.4" y2="298.5" stroke="#000" stroke-width="1" shape-rendering="crispEdges"/>
<line x1="191.5" y1="310.5" x2="271.4" y2="310.5" stroke="#000" stroke-width="1" shape-rendering="crispEdges"/>
<line x1="191.5" y1="323.5" x2="271.4" y2="323.5" stroke="#000" stroke-width="1" shape-rendering="crispEdges"/>
<line x1="191.5" y1="335.5" x2="271.4" y2="335.5" stroke="#000" stroke-width="1" shape-rendering="crispEdges"/>
<line x1="191.5" y1="348.5" x2="271.4" y2="348.5" stroke="#000" stroke-width="1" shape-rendering="crispEdges"/>
<path d="M232.4,337 L232.4,138.7 L321.5,138.7 L321.5,355.1" fill="none" stroke="#000" stroke-width="0.9" stroke-linejoin="miter"/>
<circle cx="232.4" cy="337" r="1" fill="#000" stroke="#000" stroke-width="0.5"/>
<path d="M318.56,358.31 L323.24,358.31M320.8,358.31 L320.8,364.77M321.11,360.29 L322.46,361.81" fill="none" stroke="#000" stroke-width="0.8" stroke-linecap="round" stroke-linejoin="round"/>
<path d="M271.6,350 L271.6,179.8 L283.7,179.8 L283.7,354.2 L191.5,354.2" fill="#fff" stroke="#000" stroke-width="0.9" stroke-linejoin="miter"/>
<path d="M191.5,350.2 L280.9,350.2 L280.9,182 L273.6,182 L273.6,350.2" fill="none" stroke="#000" stroke-width="0.9" stroke-linejoin="miter"/>
<line x1="190.8" y1="380.5" x2="362.4" y2="380.5" stroke="#000" stroke-width="1" shape-rendering="crispEdges"/>
<line x1="273.5" y1="355.1" x2="273.5" y2="384.2" stroke="#000" stroke-width="1" shape-rendering="crispEdges"/>
<line x1="280.5" y1="355.1" x2="280.5" y2="384.2" stroke="#000" stroke-width="1" shape-rendering="crispEdges"/>
<text x="232.6" y="377.6" font-size="9.4" textLength="14.5" lengthAdjust="spacingAndGlyphs" text-anchor="middle" fill="#505050">1850</text>
<text x="278.6" y="377.6" font-size="9.4" textLength="8.5" lengthAdjust="spacingAndGlyphs" text-anchor="middle" fill="#505050">150</text>
<text x="321.8" y="377.6" font-size="9.4" textLength="14.5" lengthAdjust="spacingAndGlyphs" text-anchor="middle" fill="#505050">1850</text>
<rect x="374.5" y="131.5" width="19" height="4" fill="#000" stroke="#000" stroke-width="1" shape-rendering="crispEdges"/>
<line x1="143.8" y1="186.5" x2="174.6" y2="186.5" stroke="#000" stroke-width="1" shape-rendering="crispEdges"/>
<line x1="143.8" y1="348.5" x2="174.6" y2="348.5" stroke="#000" stroke-width="1" shape-rendering="crispEdges"/>
<text x="147.6" y="81.5" font-size="9.4" textLength="10.3" lengthAdjust="spacingAndGlyphs" text-anchor="middle" transform="rotate(-90 147.6 81.5)" fill="#505050">250</text>
<text x="147.6" y="144" font-size="9.4" textLength="13.6" lengthAdjust="spacingAndGlyphs" text-anchor="middle" transform="rotate(-90 147.6 144)" fill="#505050">1900</text>
<text x="129.8" y="268" font-size="9.4" textLength="13.6" lengthAdjust="spacingAndGlyphs" text-anchor="middle" transform="rotate(-90 129.8 268)" fill="#505050">7500</text>
<text x="147.6" y="267" font-size="9.4" textLength="45" lengthAdjust="spacingAndGlyphs" text-anchor="middle" transform="rotate(-90 147.6 267)" fill="#505050">280x13=3640</text>
<text x="147.6" y="392" font-size="9.4" textLength="13.6" lengthAdjust="spacingAndGlyphs" text-anchor="middle" transform="rotate(-90 147.6 392)" fill="#505050">1950</text>
<text x="147.6" y="453.5" font-size="9.4" textLength="10.3" lengthAdjust="spacingAndGlyphs" text-anchor="middle" transform="rotate(-90 147.6 453.5)" fill="#505050">300</text>
<line x1="288.2" y1="128.5" x2="320.7" y2="128.5" stroke="#000" stroke-width="1" shape-rendering="crispEdges"/>
<path d="M288.2,129.2 L301.2,129.2 L294.7,135Z" fill="none" stroke="#000" stroke-width="0.8" stroke-linejoin="miter"/>
<text x="320.7" y="126.4" font-size="9.3" textLength="22.5" lengthAdjust="spacingAndGlyphs" text-anchor="end" class="b">11.000</text>
<path d="M268.04,396.29 L270.56,396.29M269.3,393.98 L269.3,403.01M269.3,396.48 L268.04,399.94M269.3,397.06 L270.42,398.98M272.66,393.79 L272.66,397.82M270.84,395.71 L274.69,395.71M271.4,394.18 L271.96,395.23M274.06,394.18 L273.36,395.23M272.52,395.9 L270.98,397.63M272.8,395.9 L274.48,397.63M270.7,399.55 L274.76,399.55M272.24,398.02 L271.4,400.9 L273.92,402.82M273.92,398.4 L272.8,401.28 L270.84,402.91" fill="none" stroke="#000" stroke-width="0.9" stroke-linecap="round" stroke-linejoin="round"/>
<path d="M275.24,396.29 L277.76,396.29M276.5,393.98 L276.5,403.01M276.5,396.48 L275.24,399.94M276.5,397.06 L277.62,398.98M278.74,393.98 L279.3,395.23M281.26,393.98 L280.56,395.23M278.32,396.29 L281.54,396.29 L281.54,397.92 L278.6,397.92 L278.39,399.84 L281.68,399.84 L281.54,401.86 L280.84,401.47M280,395.23 L280,403.01M279.86,399.94 L278.04,402.53" fill="none" stroke="#000" stroke-width="0.9" stroke-linecap="round" stroke-linejoin="round"/>
<line x1="281.3" y1="398.5" x2="320.7" y2="398.5" stroke="#000" stroke-width="1" shape-rendering="crispEdges"/>
<path d="M288.2,399.3 L301,399.3 L294.6,405.6Z" fill="none" stroke="#000" stroke-width="0.8" stroke-linejoin="miter"/>
<text x="320.7" y="396.3" font-size="9.3" textLength="23.5" lengthAdjust="spacingAndGlyphs" text-anchor="end" class="b">13.200</text>
<path d="M218.14,510.8 L222.54,510.8M220.34,507.2 L220.34,521.3M220.34,511.1 L218.14,516.5M220.34,512 L222.29,515M226.2,506.9 L226.2,513.2M223.02,509.9 L229.73,509.9M224,507.5 L224.98,509.15M228.64,507.5 L227.42,509.15M225.95,510.2 L223.27,512.9M226.44,510.2 L229.37,512.9M222.78,515.9 L229.86,515.9M225.46,513.5 L224,518 L228.39,521M228.39,514.1 L226.44,518.6 L223.02,521.15" fill="none" stroke="#000" stroke-width="1.15" stroke-linecap="round" stroke-linejoin="round"/>
<path d="M231.44,510.8 L235.84,510.8M233.64,507.2 L233.64,521.3M233.64,511.1 L231.44,516.5M233.64,512 L235.59,515M237.54,507.2 L238.52,509.15M241.94,507.2 L240.72,509.15M236.81,510.8 L242.42,510.8 L242.42,513.35 L237.3,513.35 L236.93,516.35 L242.67,516.35 L242.42,519.5 L241.2,518.9M239.74,509.15 L239.74,521.3M239.5,516.5 L236.32,520.55" fill="none" stroke="#000" stroke-width="1.15" stroke-linecap="round" stroke-linejoin="round"/>
<path d="M245.11,514.4 L256.09,514.4" fill="none" stroke="#000" stroke-width="1.15" stroke-linecap="round" stroke-linejoin="round"/>
<path d="M273.34,508.4 L283.26,508.4 L283.26,520.1 L273.34,520.1 L273.34,508.4M276.88,508.4 L276.88,513.8 L275,516.8M279.72,508.4 L279.72,514.85 L280.9,515.9 L283.26,515.9" fill="none" stroke="#000" stroke-width="1.15" stroke-linecap="round" stroke-linejoin="round"/>
<path d="M287.47,507.8 L296.08,507.8 L296.08,511.1 L287.47,511.1M287.47,507.8 L287.47,515.6 L286.05,520.85M289.48,513.8 L295.73,513.8M288.3,516.5 L297.03,516.5M292.19,516.5 L289.83,520.1 L295.38,519.8M294.2,518 L296.32,521" fill="none" stroke="#000" stroke-width="1.15" stroke-linecap="round" stroke-linejoin="round"/>
<path d="M300.18,508.4 L309.62,508.4M302.07,510.35 L303.01,513.35M307.73,510.35 L306.79,513.35M299.47,515.3 L310.33,515.3M304.9,508.4 L304.9,521.3" fill="none" stroke="#000" stroke-width="1.15" stroke-linecap="round" stroke-linejoin="round"/>
<path d="M312.77,507.8 L323.63,507.8M318.2,507.8 L317.26,510.5M313.72,510.5 L322.68,510.5 L322.68,521 L313.72,521 L313.72,510.5M316.78,510.5 L316.78,521M319.62,510.5 L319.62,521M316.78,513.8 L319.62,513.8M316.78,517.1 L319.62,517.1" fill="none" stroke="#000" stroke-width="1.15" stroke-linecap="round" stroke-linejoin="round"/>
<path d="M326.54,507.5 L336.46,507.5 L336.46,521 L326.54,521 L326.54,507.5M330.91,508.7 L328.43,512.6M329.85,510.5 L333.62,510.5 L329.14,516.2M330.32,512 L334.8,516.2M330.79,515.6 L332.44,516.8M330.08,518 L332.92,519.5" fill="none" stroke="#000" stroke-width="1.15" stroke-linecap="round" stroke-linejoin="round"/>
<text x="345.1" y="519.8" font-size="10.3" textLength="19.6" lengthAdjust="spacingAndGlyphs" class="b">1:50</text>
<line x1="217" y1="526" x2="365.8" y2="526" stroke="#000" stroke-width="2" shape-rendering="crispEdges"/>
<line x1="217" y1="528.5" x2="365.8" y2="528.5" stroke="#000" stroke-width="1" shape-rendering="crispEdges"/>
</g>
<path d="M1026.5,922.2 L1026.5,197.4 L1473.4,197.4 L1473.4,914.2" fill="none" stroke="#000" stroke-width="0.9" stroke-linejoin="miter" stroke-dasharray="11 4"/>
<line x1="1026.5" y1="922.5" x2="1473.4" y2="922.5" stroke="#000" stroke-width="1" stroke-dasharray="11 4" shape-rendering="crispEdges"/>
<line x1="1067.5" y1="197.4" x2="1067.5" y2="835.8" stroke="#000" stroke-width="1" stroke-dasharray="40 4 2 4" shape-rendering="crispEdges"/>
<line x1="1067.5" y1="846.4" x2="1067.5" y2="948" stroke="#000" stroke-width="1" shape-rendering="crispEdges"/>
<line x1="1401.5" y1="197.4" x2="1401.5" y2="835.8" stroke="#000" stroke-width="1" stroke-dasharray="40 4 2 4" shape-rendering="crispEdges"/>
<line x1="1401.5" y1="846.4" x2="1401.5" y2="948" stroke="#000" stroke-width="1" shape-rendering="crispEdges"/>
<line x1="1049.5" y1="197.4" x2="1049.5" y2="247.7" stroke="#000" stroke-width="1" shape-rendering="crispEdges"/>
<line x1="1054.5" y1="197.4" x2="1054.5" y2="247.7" stroke="#000" stroke-width="1" shape-rendering="crispEdges"/>
<line x1="1058.5" y1="197.4" x2="1058.5" y2="247.7" stroke="#000" stroke-width="1" shape-rendering="crispEdges"/>
<line x1="1049.5" y1="345" x2="1049.5" y2="443.73" stroke="#000" stroke-width="1" shape-rendering="crispEdges"/>
<line x1="1054.5" y1="345" x2="1054.5" y2="443.73" stroke="#000" stroke-width="1" shape-rendering="crispEdges"/>
<line x1="1058.5" y1="345" x2="1058.5" y2="443.73" stroke="#000" stroke-width="1" shape-rendering="crispEdges"/>
<line x1="1049.5" y1="541.3" x2="1049.5" y2="639.77" stroke="#000" stroke-width="1" shape-rendering="crispEdges"/>
<line x1="1054.5" y1="541.3" x2="1054.5" y2="639.77" stroke="#000" stroke-width="1" shape-rendering="crispEdges"/>
<line x1="1058.5" y1="541.3" x2="1058.5" y2="639.77" stroke="#000" stroke-width="1" shape-rendering="crispEdges"/>
<rect x="1049.9" y="278.5" width="8.4" height="58" fill="url(#hw)" stroke="none" stroke-width="0" shape-rendering="crispEdges"/>
<line x1="1049.5" y1="278.5" x2="1049.5" y2="336.5" stroke="#000" stroke-width="1" shape-rendering="crispEdges"/>
<line x1="1058" y1="278.5" x2="1058" y2="336.5" stroke="#000" stroke-width="2" shape-rendering="crispEdges"/>
<rect x="1049.5" y="336.5" width="9" height="9" fill="none" stroke="#000" stroke-width="1" shape-rendering="crispEdges"/>
<rect x="1049.9" y="474.5" width="8.4" height="58.7" fill="url(#hw)" stroke="none" stroke-width="0" shape-rendering="crispEdges"/>
<line x1="1049.5" y1="474.5" x2="1049.5" y2="533.2" stroke="#000" stroke-width="1" shape-rendering="crispEdges"/>
<line x1="1058" y1="474.5" x2="1058" y2="533.2" stroke="#000" stroke-width="2" shape-rendering="crispEdges"/>
<line x1="1049.9" y1="533" x2="1058.3" y2="533" stroke="#000" stroke-width="2" shape-rendering="crispEdges"/>
<rect x="1049.5" y="534.5" width="9" height="7" fill="url(#hw)" stroke="#000" stroke-width="1" shape-rendering="crispEdges"/>
<rect x="1051.5" y="586.5" width="3" height="3" fill="#000" stroke="#000" stroke-width="1" shape-rendering="crispEdges"/>
<rect x="1049.9" y="670.6" width="8.4" height="97.9" fill="url(#hw)" stroke="none" stroke-width="0" shape-rendering="crispEdges"/>
<line x1="1049.5" y1="670.6" x2="1049.5" y2="768.5" stroke="#000" stroke-width="1" shape-rendering="crispEdges"/>
<line x1="1058" y1="670.6" x2="1058" y2="768.5" stroke="#000" stroke-width="2" shape-rendering="crispEdges"/>
<rect x="1049.9" y="786.6" width="8.4" height="49.2" fill="url(#hw)" stroke="none" stroke-width="0" shape-rendering="crispEdges"/>
<line x1="1049.5" y1="786.6" x2="1049.5" y2="835.8" stroke="#000" stroke-width="1" shape-rendering="crispEdges"/>
<line x1="1058" y1="786.6" x2="1058" y2="835.8" stroke="#000" stroke-width="2" shape-rendering="crispEdges"/>
<line x1="1410.5" y1="197.4" x2="1410.5" y2="831.8" stroke="#000" stroke-width="1" shape-rendering="crispEdges"/>
<line x1="1413.5" y1="197.4" x2="1413.5" y2="831.8" stroke="#000" stroke-width="1" shape-rendering="crispEdges"/>
<line x1="1415.5" y1="197.4" x2="1415.5" y2="831.8" stroke="#000" stroke-width="1" shape-rendering="crispEdges"/>
<line x1="1419.5" y1="197.4" x2="1419.5" y2="831.8" stroke="#000" stroke-width="1" shape-rendering="crispEdges"/>
<line x1="1441.5" y1="197.4" x2="1441.5" y2="831.8" stroke="#000" stroke-width="1" shape-rendering="crispEdges"/>
<rect x="1026.5" y="247.7" width="127.7" height="5.3" fill="url(#hsl)" stroke="none" stroke-width="0" shape-rendering="crispEdges"/>
<line x1="1026.5" y1="247.5" x2="1154.2" y2="247.5" stroke="#000" stroke-width="1" shape-rendering="crispEdges"/>
<line x1="1026.5" y1="249.5" x2="1154.2" y2="249.5" stroke="#333" stroke-width="1" shape-rendering="crispEdges"/>
<line x1="1026.5" y1="253" x2="1049.9" y2="253" stroke="#000" stroke-width="2" shape-rendering="crispEdges"/>
<rect x="1049.9" y="248.2" width="15.6" height="30.3" fill="url(#hc)" stroke="none" stroke-width="0" shape-rendering="crispEdges"/>
<path d="M1049.9,253 L1049.9,278.5 L1065.5,278.5 L1065.5,253" fill="none" stroke="#000" stroke-width="0.9" stroke-linejoin="miter"/>
<line x1="1063.5" y1="253" x2="1063.5" y2="278.5" stroke="#000" stroke-width="1" shape-rendering="crispEdges"/>
<line x1="1049.9" y1="278" x2="1063.7" y2="278" stroke="#000" stroke-width="2" shape-rendering="crispEdges"/>
<rect x="1143.8" y="249.5" width="10.4" height="13.9" fill="url(#hc)" stroke="none" stroke-width="0" shape-rendering="crispEdges"/>
<path d="M1143.8,253 L1143.8,263.4 L1154.2,263.4 L1154.2,248.7" fill="none" stroke="#000" stroke-width="1.5" stroke-linejoin="miter"/>
<line x1="1065.5" y1="253" x2="1143.8" y2="253" stroke="#000" stroke-width="2" shape-rendering="crispEdges"/>
<rect x="1405.4" y="243.5" width="35.8" height="35" fill="#fff" stroke="none" stroke-width="0" shape-rendering="crispEdges"/>
<rect x="1405.4" y="243.5" width="13" height="35" fill="url(#hc)" stroke="none" stroke-width="0" shape-rendering="crispEdges"/>
<rect x="1418.4" y="243.5" width="22.8" height="4.2" fill="url(#hs)" stroke="none" stroke-width="0" shape-rendering="crispEdges"/>
<rect x="1437.3" y="247.7" width="3.9" height="30.8" fill="url(#hs)" stroke="none" stroke-width="0" shape-rendering="crispEdges"/>
<rect x="1412" y="272.4" width="29.2" height="6.1" fill="url(#hs)" stroke="none" stroke-width="0" shape-rendering="crispEdges"/>
<rect x="1419.5" y="247.5" width="18" height="25" fill="#fff" stroke="#000" stroke-width="1" shape-rendering="crispEdges"/>
<line x1="1419" y1="247.2" x2="1419" y2="272.9" stroke="#000" stroke-width="2" shape-rendering="crispEdges"/>
<line x1="1418.6" y1="272" x2="1437.3" y2="272" stroke="#000" stroke-width="2" shape-rendering="crispEdges"/>
<path d="M1421.6,255.7 L1421.6,249.5 L1428.5,248.9" fill="none" stroke="#000" stroke-width="0.8" stroke-linejoin="miter"/>
<rect x="1405" y="244" width="36" height="35" fill="none" stroke="#000" stroke-width="2" shape-rendering="crispEdges"/>
<rect x="1026.5" y="443.73" width="127.7" height="5.3" fill="url(#hsl)" stroke="none" stroke-width="0" shape-rendering="crispEdges"/>
<line x1="1026.5" y1="443.5" x2="1154.2" y2="443.5" stroke="#000" stroke-width="1" shape-rendering="crispEdges"/>
<line x1="1026.5" y1="445.5" x2="1154.2" y2="445.5" stroke="#333" stroke-width="1" shape-rendering="crispEdges"/>
<line x1="1026.5" y1="449" x2="1049.9" y2="449" stroke="#000" stroke-width="2" shape-rendering="crispEdges"/>
<rect x="1049.9" y="444.23" width="15.6" height="30.3" fill="url(#hc)" stroke="none" stroke-width="0" shape-rendering="crispEdges"/>
<path d="M1049.9,449.03 L1049.9,474.53 L1065.5,474.53 L1065.5,449.03" fill="none" stroke="#000" stroke-width="0.9" stroke-linejoin="miter"/>
<line x1="1063.5" y1="449.03" x2="1063.5" y2="474.53" stroke="#000" stroke-width="1" shape-rendering="crispEdges"/>
<line x1="1049.9" y1="474" x2="1063.7" y2="474" stroke="#000" stroke-width="2" shape-rendering="crispEdges"/>
<rect x="1143.8" y="445.53" width="10.4" height="13.9" fill="url(#hc)" stroke="none" stroke-width="0" shape-rendering="crispEdges"/>
<path d="M1143.8,449.03 L1143.8,459.43 L1154.2,459.43 L1154.2,444.73" fill="none" stroke="#000" stroke-width="1.5" stroke-linejoin="miter"/>
<line x1="1065.5" y1="449" x2="1143.8" y2="449" stroke="#000" stroke-width="2" shape-rendering="crispEdges"/>
<rect x="1405.4" y="439.53" width="35.8" height="35" fill="#fff" stroke="none" stroke-width="0" shape-rendering="crispEdges"/>
<rect x="1405.4" y="439.53" width="13" height="35" fill="url(#hc)" stroke="none" stroke-width="0" shape-rendering="crispEdges"/>
<rect x="1418.4" y="439.53" width="22.8" height="4.2" fill="url(#hs)" stroke="none" stroke-width="0" shape-rendering="crispEdges"/>
<rect x="1437.3" y="443.73" width="3.9" height="30.8" fill="url(#hs)" stroke="none" stroke-width="0" shape-rendering="crispEdges"/>
<rect x="1412" y="468.43" width="29.2" height="6.1" fill="url(#hs)" stroke="none" stroke-width="0" shape-rendering="crispEdges"/>
<rect x="1419.5" y="443.5" width="18" height="25" fill="#fff" stroke="#000" stroke-width="1" shape-rendering="crispEdges"/>
<line x1="1419" y1="443.23" x2="1419" y2="468.93" stroke="#000" stroke-width="2" shape-rendering="crispEdges"/>
<line x1="1418.6" y1="468" x2="1437.3" y2="468" stroke="#000" stroke-width="2" shape-rendering="crispEdges"/>
<path d="M1421.6,451.73 L1421.6,445.53 L1428.5,444.93" fill="none" stroke="#000" stroke-width="0.8" stroke-linejoin="miter"/>
<rect x="1405" y="440" width="36" height="35" fill="none" stroke="#000" stroke-width="2" shape-rendering="crispEdges"/>
<rect x="1026.5" y="639.77" width="160.9" height="5.3" fill="url(#hsl)" stroke="none" stroke-width="0" shape-rendering="crispEdges"/>
<line x1="1026.5" y1="639.5" x2="1187.4" y2="639.5" stroke="#000" stroke-width="1" shape-rendering="crispEdges"/>
<line x1="1026.5" y1="641.5" x2="1187.4" y2="641.5" stroke="#333" stroke-width="1" shape-rendering="crispEdges"/>
<line x1="1026.5" y1="645" x2="1049.9" y2="645" stroke="#000" stroke-width="2" shape-rendering="crispEdges"/>
<rect x="1049.9" y="640.27" width="15.6" height="30.3" fill="url(#hc)" stroke="none" stroke-width="0" shape-rendering="crispEdges"/>
<path d="M1049.9,645.07 L1049.9,670.57 L1065.5,670.57 L1065.5,645.07" fill="none" stroke="#000" stroke-width="0.9" stroke-linejoin="miter"/>
<line x1="1063.5" y1="645.07" x2="1063.5" y2="670.57" stroke="#000" stroke-width="1" shape-rendering="crispEdges"/>
<line x1="1049.9" y1="670" x2="1063.7" y2="670" stroke="#000" stroke-width="2" shape-rendering="crispEdges"/>
<rect x="1143.8" y="644.37" width="10.4" height="10.4" fill="url(#hc)" stroke="none" stroke-width="0" shape-rendering="crispEdges"/>
<path d="M1143.8,645.07 L1143.8,654.77 L1154.2,654.77 L1154.2,645.07" fill="none" stroke="#000" stroke-width="1.2" stroke-linejoin="miter"/>
<line x1="1065.5" y1="645" x2="1143.8" y2="645" stroke="#000" stroke-width="2" shape-rendering="crispEdges"/>
<line x1="1154.2" y1="645.5" x2="1193" y2="645.5" stroke="#000" stroke-width="1" shape-rendering="crispEdges"/>
<rect x="1405.4" y="635.57" width="35.8" height="35" fill="#fff" stroke="none" stroke-width="0" shape-rendering="crispEdges"/>
<rect x="1405.4" y="635.57" width="13" height="35" fill="url(#hc)" stroke="none" stroke-width="0" shape-rendering="crispEdges"/>
<rect x="1418.4" y="635.57" width="22.8" height="4.2" fill="url(#hs)" stroke="none" stroke-width="0" shape-rendering="crispEdges"/>
<rect x="1437.3" y="639.77" width="3.9" height="30.8" fill="url(#hs)" stroke="none" stroke-width="0" shape-rendering="crispEdges"/>
<rect x="1412" y="664.47" width="29.2" height="6.1" fill="url(#hs)" stroke="none" stroke-width="0" shape-rendering="crispEdges"/>
<rect x="1419.5" y="639.5" width="18" height="25" fill="#fff" stroke="#000" stroke-width="1" shape-rendering="crispEdges"/>
<line x1="1419" y1="639.27" x2="1419" y2="664.97" stroke="#000" stroke-width="2" shape-rendering="crispEdges"/>
<line x1="1418.6" y1="664" x2="1437.3" y2="664" stroke="#000" stroke-width="2" shape-rendering="crispEdges"/>
<path d="M1421.6,647.77 L1421.6,641.57 L1428.5,640.97" fill="none" stroke="#000" stroke-width="0.8" stroke-linejoin="miter"/>
<rect x="1405" y="636" width="36" height="35" fill="none" stroke="#000" stroke-width="2" shape-rendering="crispEdges"/>
<rect x="1026.5" y="835.8" width="384.2" height="10.6" fill="url(#hg)" stroke="none" stroke-width="0" shape-rendering="crispEdges"/>
<line x1="1026.5" y1="835.5" x2="1410.7" y2="835.5" stroke="#000" stroke-width="1" shape-rendering="crispEdges"/>
<line x1="1296" y1="834.5" x2="1410.7" y2="834.5" stroke="#000" stroke-width="1" shape-rendering="crispEdges"/>
<line x1="1026.5" y1="846.5" x2="1049.9" y2="846.5" stroke="#000" stroke-width="1" shape-rendering="crispEdges"/>
<line x1="1065.5" y1="846.5" x2="1405.6" y2="846.5" stroke="#000" stroke-width="1" shape-rendering="crispEdges"/>
<line x1="1026.5" y1="835.8" x2="1026.5" y2="846.4" stroke="#000" stroke-width="1" shape-rendering="crispEdges"/>
<rect x="1049.9" y="836.3" width="15.6" height="31" fill="url(#hc)" stroke="none" stroke-width="0" shape-rendering="crispEdges"/>
<path d="M1049.9,846.4 L1049.9,867.3 L1065.5,867.3 L1065.5,846.4" fill="none" stroke="#000" stroke-width="0.9" stroke-linejoin="miter"/>
<line x1="1063.5" y1="846.4" x2="1063.5" y2="867.3" stroke="#000" stroke-width="1" shape-rendering="crispEdges"/>
<path d="M1405.6,846.4 L1405.6,913 L1473.4,913 L1473.4,903.7 L1417.6,903.7 L1417.6,831.8 L1410.9,831.8" fill="url(#hg)" stroke="#000" stroke-width="0.9" stroke-linejoin="miter"/>
<line x1="1410.7" y1="832" x2="1441.3" y2="832" stroke="#000" stroke-width="2" shape-rendering="crispEdges"/>
<rect x="1419" y="832" width="22" height="29" fill="url(#hd)" stroke="#000" stroke-width="2" shape-rendering="crispEdges"/>
<path d="M1441.3,860.8 L1441.3,865.4 L1417.6,865.4" fill="none" stroke="#000" stroke-width="1.6" stroke-linejoin="miter"/>
<path d="M1417.6,868 L1417.6,903.9 L1473.4,903.9" fill="none" stroke="#000" stroke-width="2" stroke-linejoin="miter"/>
<path d="M1440.95,877.33 L1447.25,877.33M1441.3,878.15 L1446.9,878.15 L1446.9,879.46 L1441.3,879.46 L1441.3,878.15M1443.26,877.33 L1443.26,879.46M1444.94,877.33 L1444.94,879.46M1442.35,879.95 L1441.16,881.1M1442.56,881.1 L1441.16,882.58M1441.86,882.08 L1441.86,885.04M1444.45,879.95 L1443.4,880.94M1444.1,880.44 L1447.04,880.44M1443.75,881.26 L1446.76,881.26 L1446.76,882.74 L1443.75,882.74 L1443.75,881.26M1443.75,882 L1446.76,882M1444.8,882.9 L1443.4,884.38M1444.45,883.4 L1446.55,883.4 L1443.54,885.04M1444.66,883.89 L1447.04,885.04" fill="none" stroke="#000" stroke-width="0.8" stroke-linecap="round" stroke-linejoin="round"/>
<path d="M1449.25,880.28 L1454.15,880.28M1451.7,877.49 L1451.7,884.54M1448.48,884.54 L1454.92,884.54" fill="none" stroke="#000" stroke-width="0.8" stroke-linecap="round" stroke-linejoin="round"/>
<path d="M1456.85,877.66 L1461.96,877.66 L1461.96,879.46 L1456.85,879.46M1456.85,877.66 L1456.85,881.92 L1456.01,884.79M1458.04,880.94 L1461.75,880.94M1457.34,882.41 L1462.52,882.41M1459.65,882.41 L1458.25,884.38 L1461.54,884.22M1460.84,883.23 L1462.1,884.87" fill="none" stroke="#000" stroke-width="0.8" stroke-linecap="round" stroke-linejoin="round"/>
<path d="M1198.97,879.62 L1201.86,879.62M1200.33,877.15 L1200.33,883.42M1198.97,884.18 L1201.86,882.85M1202.03,880 L1206.62,878.58 L1206.45,881.52 L1205.6,881.24M1203.22,877.34 L1203.22,884.37 L1206.96,884.37 L1206.96,883.04M1204.75,876.39 L1204.75,882.47" fill="none" stroke="#000" stroke-width="0.9" stroke-linecap="round" stroke-linejoin="round"/>
<path d="M1216.83,877.34 L1224.48,877.34M1220.48,877.34 L1220.48,885.42M1220.99,879.81 L1223.2,881.71" fill="none" stroke="#000" stroke-width="0.9" stroke-linecap="round" stroke-linejoin="round"/>
<path d="M1238.05,876.3 L1238.05,877.15M1234.48,878.86 L1234.48,877.53 L1241.62,877.53 L1241.62,878.86M1235.5,879.05 L1240.6,879.05M1238.05,879.05 L1236.18,880.95 L1240.26,880.76M1239.75,880 L1240.6,881.14M1235.33,882.66 L1240.77,882.66M1238.05,881.33 L1238.05,885.04M1234.48,885.04 L1241.62,885.04" fill="none" stroke="#000" stroke-width="0.9" stroke-linecap="round" stroke-linejoin="round"/>
<rect x="1316.6" y="345.72" width="92.9" height="4.7" fill="url(#hsl)" stroke="none" stroke-width="0" shape-rendering="crispEdges"/>
<line x1="1316.6" y1="345.5" x2="1404" y2="345.5" stroke="#000" stroke-width="1" shape-rendering="crispEdges"/>
<line x1="1316.6" y1="347.5" x2="1404" y2="347.5" stroke="#333" stroke-width="1" shape-rendering="crispEdges"/>
<line x1="1327.7" y1="350" x2="1399.8" y2="350" stroke="#000" stroke-width="2" shape-rendering="crispEdges"/>
<rect x="1316.8" y="347.42" width="10.9" height="13.9" fill="url(#hc)" stroke="none" stroke-width="0" shape-rendering="crispEdges"/>
<path d="M1316.8,345.72 L1316.8,361.32 L1327.7,361.32 L1327.7,350.42" fill="none" stroke="#000" stroke-width="1.5" stroke-linejoin="miter"/>
<path d="M1399.8,350.42 L1399.8,363.62 L1409.5,363.62 L1409.5,342.32 L1404,342.32 L1404,345.72" fill="url(#hc)" stroke="#000" stroke-width="1" stroke-linejoin="miter"/>
<line x1="1404" y1="342.32" x2="1404" y2="346.72" stroke="#000" stroke-width="2" shape-rendering="crispEdges"/>
<rect x="1316.6" y="541.75" width="92.9" height="4.7" fill="url(#hsl)" stroke="none" stroke-width="0" shape-rendering="crispEdges"/>
<line x1="1316.6" y1="541.5" x2="1404" y2="541.5" stroke="#000" stroke-width="1" shape-rendering="crispEdges"/>
<line x1="1316.6" y1="543.5" x2="1404" y2="543.5" stroke="#333" stroke-width="1" shape-rendering="crispEdges"/>
<line x1="1327.7" y1="546" x2="1399.8" y2="546" stroke="#000" stroke-width="2" shape-rendering="crispEdges"/>
<rect x="1316.8" y="543.45" width="10.9" height="13.9" fill="url(#hc)" stroke="none" stroke-width="0" shape-rendering="crispEdges"/>
<path d="M1316.8,541.75 L1316.8,557.35 L1327.7,557.35 L1327.7,546.45" fill="none" stroke="#000" stroke-width="1.5" stroke-linejoin="miter"/>
<path d="M1399.8,546.45 L1399.8,559.65 L1409.5,559.65 L1409.5,538.35 L1404,538.35 L1404,541.75" fill="url(#hc)" stroke="#000" stroke-width="1" stroke-linejoin="miter"/>
<line x1="1404" y1="538.35" x2="1404" y2="542.75" stroke="#000" stroke-width="2" shape-rendering="crispEdges"/>
<rect x="1294.6" y="702.14" width="114.9" height="3.6" fill="url(#hsl)" stroke="none" stroke-width="0" shape-rendering="crispEdges"/>
<line x1="1296" y1="702" x2="1404" y2="702" stroke="#000" stroke-width="2" shape-rendering="crispEdges"/>
<line x1="1305.7" y1="705.5" x2="1399.8" y2="705.5" stroke="#000" stroke-width="1" shape-rendering="crispEdges"/>
<rect x="1294.8" y="704.34" width="10.9" height="13.3" fill="url(#hc)" stroke="none" stroke-width="0" shape-rendering="crispEdges"/>
<path d="M1294.8,702.14 L1294.8,717.64 L1305.7,717.64 L1305.7,705.74" fill="none" stroke="#000" stroke-width="1.2" stroke-linejoin="miter"/>
<path d="M1399.8,705.74 L1399.8,718.94 L1409.5,718.94 L1409.5,697.44 L1404,697.44 L1404,702.14" fill="url(#hc)" stroke="#000" stroke-width="1" stroke-linejoin="miter"/>
<line x1="1404" y1="697.44" x2="1404" y2="703.14" stroke="#000" stroke-width="2" shape-rendering="crispEdges"/>
<rect x="1049.9" y="768.97" width="123.4" height="5.4" fill="url(#hsl)" stroke="none" stroke-width="0" shape-rendering="crispEdges"/>
<line x1="1049.9" y1="768.5" x2="1173.3" y2="768.5" stroke="#000" stroke-width="1" shape-rendering="crispEdges"/>
<line x1="1049.9" y1="770.5" x2="1173.3" y2="770.5" stroke="#333" stroke-width="1" shape-rendering="crispEdges"/>
<line x1="1059.7" y1="774" x2="1163.5" y2="774" stroke="#000" stroke-width="2" shape-rendering="crispEdges"/>
<rect x="1049.9" y="770.87" width="9.8" height="16.2" fill="url(#hc)" stroke="none" stroke-width="0" shape-rendering="crispEdges"/>
<path d="M1049.9,787.07 L1059.7,787.07 L1059.7,774.37" fill="none" stroke="#000" stroke-width="1" stroke-linejoin="miter"/>
<rect x="1163.5" y="770.87" width="9.8" height="14.4" fill="url(#hc)" stroke="none" stroke-width="0" shape-rendering="crispEdges"/>
<path d="M1163.5,774.37 L1163.5,785.27 L1173.3,785.27 L1173.3,768.97" fill="none" stroke="#000" stroke-width="1.2" stroke-linejoin="miter"/>
<path d="M1154.2,247.7 L1154.2,254.7 L1166.69,254.7 L1166.69,261.7 L1179.18,261.7 L1179.18,268.7 L1191.68,268.7 L1191.68,275.71 L1204.17,275.71 L1204.17,282.71 L1216.66,282.71 L1216.66,289.71 L1229.15,289.71 L1229.15,296.71 L1241.65,296.71 L1241.65,303.71 L1254.14,303.71 L1254.14,310.71 L1266.63,310.71 L1266.63,317.71 L1279.12,317.71 L1279.12,324.71 L1291.62,324.71 L1291.62,331.71 L1304.11,331.71 L1304.11,338.72 L1316.6,338.72 L1316.6,345.72 L1316.6,350.02 L1154.2,259Z" fill="url(#hs)" stroke="none" stroke-width="0" stroke-linejoin="miter"/>
<line x1="1154.2" y1="259" x2="1318.1" y2="350.86" stroke="#000" stroke-width="1.6"/>
<path d="M1155.9,256.5 L1168.39,256.5 L1168.39,263.5 L1180.88,263.5 L1180.88,270.5 L1193.38,270.5 L1193.38,277.51 L1205.87,277.51 L1205.87,284.51 L1218.36,284.51 L1218.36,291.51 L1230.85,291.51 L1230.85,298.51 L1243.35,298.51 L1243.35,305.51 L1255.84,305.51 L1255.84,312.51 L1268.33,312.51 L1268.33,319.51 L1280.82,319.51 L1280.82,326.51 L1293.32,326.51 L1293.32,333.51 L1305.81,333.51 L1305.81,340.52 L1318.3,340.52" fill="none" stroke="#222" stroke-width="0.6" stroke-linejoin="miter"/>
<path d="M1154.2,254.7 L1166.69,254.7 L1166.69,261.7 L1179.18,261.7 L1179.18,268.7 L1191.68,268.7 L1191.68,275.71 L1204.17,275.71 L1204.17,282.71 L1216.66,282.71 L1216.66,289.71 L1229.15,289.71 L1229.15,296.71 L1241.65,296.71 L1241.65,303.71 L1254.14,303.71 L1254.14,310.71 L1266.63,310.71 L1266.63,317.71 L1279.12,317.71 L1279.12,324.71 L1291.62,324.71 L1291.62,331.71 L1304.11,331.71 L1304.11,338.72 L1316.6,338.72 L1316.6,345.72" fill="none" stroke="#000" stroke-width="1.45" stroke-linejoin="miter"/>
<path d="M1316.5,345.5 L1316.5,352.5 L1304.5,352.5 L1304.5,359.5 L1291.5,359.5 L1291.5,366.5 L1279.5,366.5 L1279.5,373.5 L1266.5,373.5 L1266.5,380.5 L1254.5,380.5 L1254.5,387.5 L1241.5,387.5 L1241.5,394.5 L1229.5,394.5 L1229.5,401.5 L1216.5,401.5 L1216.5,408.5 L1204.5,408.5 L1204.5,415.5 L1191.5,415.5 L1191.5,422.5 L1179.5,422.5 L1179.5,429.5 L1166.5,429.5 L1166.5,436.5 L1154.5,436.5 L1154.5,443.5" fill="none" stroke="#000" stroke-width="1" stroke-linejoin="miter" shape-rendering="crispEdges"/>
<line x1="1316.4" y1="358.43" x2="1154.2" y2="449.63" stroke="#000" stroke-width="0.9"/>
<path d="M1154.2,443.73 L1154.2,450.73 L1166.69,450.73 L1166.69,457.74 L1179.18,457.74 L1179.18,464.74 L1191.68,464.74 L1191.68,471.74 L1204.17,471.74 L1204.17,478.74 L1216.66,478.74 L1216.66,485.74 L1229.15,485.74 L1229.15,492.74 L1241.65,492.74 L1241.65,499.74 L1254.14,499.74 L1254.14,506.74 L1266.63,506.74 L1266.63,513.75 L1279.12,513.75 L1279.12,520.75 L1291.62,520.75 L1291.62,527.75 L1304.11,527.75 L1304.11,534.75 L1316.6,534.75 L1316.6,541.75 L1316.6,546.05 L1154.2,455.03Z" fill="url(#hs)" stroke="none" stroke-width="0" stroke-linejoin="miter"/>
<line x1="1154.2" y1="455.03" x2="1318.1" y2="546.89" stroke="#000" stroke-width="1.6"/>
<path d="M1155.9,452.53 L1168.39,452.53 L1168.39,459.54 L1180.88,459.54 L1180.88,466.54 L1193.38,466.54 L1193.38,473.54 L1205.87,473.54 L1205.87,480.54 L1218.36,480.54 L1218.36,487.54 L1230.85,487.54 L1230.85,494.54 L1243.35,494.54 L1243.35,501.54 L1255.84,501.54 L1255.84,508.54 L1268.33,508.54 L1268.33,515.55 L1280.82,515.55 L1280.82,522.55 L1293.32,522.55 L1293.32,529.55 L1305.81,529.55 L1305.81,536.55 L1318.3,536.55" fill="none" stroke="#222" stroke-width="0.6" stroke-linejoin="miter"/>
<path d="M1154.2,450.73 L1166.69,450.73 L1166.69,457.74 L1179.18,457.74 L1179.18,464.74 L1191.68,464.74 L1191.68,471.74 L1204.17,471.74 L1204.17,478.74 L1216.66,478.74 L1216.66,485.74 L1229.15,485.74 L1229.15,492.74 L1241.65,492.74 L1241.65,499.74 L1254.14,499.74 L1254.14,506.74 L1266.63,506.74 L1266.63,513.75 L1279.12,513.75 L1279.12,520.75 L1291.62,520.75 L1291.62,527.75 L1304.11,527.75 L1304.11,534.75 L1316.6,534.75 L1316.6,541.75" fill="none" stroke="#000" stroke-width="1.45" stroke-linejoin="miter"/>
<path d="M1316.5,541.5 L1316.5,548.5 L1304.5,548.5 L1304.5,555.5 L1291.5,555.5 L1291.5,562.5 L1279.5,562.5 L1279.5,569.5 L1266.5,569.5 L1266.5,576.5 L1254.5,576.5 L1254.5,583.5 L1241.5,583.5 L1241.5,590.5 L1229.5,590.5 L1229.5,597.5 L1216.5,597.5 L1216.5,604.5 L1204.5,604.5 L1204.5,611.5 L1191.5,611.5 L1191.5,618.5 L1179.5,618.5 L1179.5,625.5 L1166.5,625.5 L1166.5,632.5 L1154.5,632.5 L1154.5,639.5" fill="none" stroke="#000" stroke-width="1" stroke-linejoin="miter" shape-rendering="crispEdges"/>
<line x1="1316.4" y1="554.46" x2="1154.2" y2="645.67" stroke="#000" stroke-width="0.9"/>
<path d="M1187.4,639.77 L1187.4,646.7 L1200.8,646.7 L1200.8,653.63 L1214.2,653.63 L1214.2,660.56 L1227.6,660.56 L1227.6,667.49 L1241,667.49 L1241,674.42 L1254.4,674.42 L1254.4,681.35 L1267.8,681.35 L1267.8,688.28 L1281.2,688.28 L1281.2,695.21 L1294.6,695.21 L1294.6,702.14 L1294.6,706.44 L1175.93,645.07 L1175.93,639.77Z" fill="url(#hs)" stroke="none" stroke-width="0" stroke-linejoin="miter"/>
<line x1="1175.93" y1="645.07" x2="1296.1" y2="707.22" stroke="#000" stroke-width="1.6"/>
<path d="M1189.1,648.5 L1202.5,648.5 L1202.5,655.43 L1215.9,655.43 L1215.9,662.36 L1229.3,662.36 L1229.3,669.29 L1242.7,669.29 L1242.7,676.22 L1256.1,676.22 L1256.1,683.15 L1269.5,683.15 L1269.5,690.08 L1282.9,690.08 L1282.9,697.01 L1296.3,697.01" fill="none" stroke="#222" stroke-width="0.6" stroke-linejoin="miter"/>
<path d="M1187.4,646.7 L1200.8,646.7 L1200.8,653.63 L1214.2,653.63 L1214.2,660.56 L1227.6,660.56 L1227.6,667.49 L1241,667.49 L1241,674.42 L1254.4,674.42 L1254.4,681.35 L1267.8,681.35 L1267.8,688.28 L1281.2,688.28 L1281.2,695.21 L1294.6,695.21 L1294.6,702.14" fill="none" stroke="#000" stroke-width="1.45" stroke-linejoin="miter"/>
<path d="M1294.5,702.5 L1294.5,708.5 L1281.5,708.5 L1281.5,715.5 L1267.5,715.5 L1267.5,722.5 L1254.5,722.5 L1254.5,728.5 L1241.5,728.5 L1241.5,735.5 L1227.5,735.5 L1227.5,742.5 L1214.5,742.5 L1214.5,748.5 L1200.5,748.5 L1200.5,755.5 L1187.5,755.5 L1187.5,762.5 L1174.5,762.5 L1174.5,768.5" fill="none" stroke="#000" stroke-width="1" stroke-linejoin="miter" shape-rendering="crispEdges"/>
<line x1="1294.4" y1="714.52" x2="1174.2" y2="774.87" stroke="#000" stroke-width="0.9"/>
<path d="M1174.2,768.97 L1174.2,775.65 L1187.58,775.65 L1187.58,782.34 L1200.96,782.34 L1200.96,789.02 L1214.33,789.02 L1214.33,795.7 L1227.71,795.7 L1227.71,802.39 L1241.09,802.39 L1241.09,809.07 L1254.47,809.07 L1254.47,815.75 L1267.84,815.75 L1267.84,822.43 L1281.22,822.43 L1281.22,829.12 L1294.6,829.12 L1294.6,835.8 L1285.99,835.8 L1174.2,779.95Z" fill="url(#hs)" stroke="none" stroke-width="0" stroke-linejoin="miter"/>
<line x1="1174.2" y1="779.95" x2="1285.99" y2="835.8" stroke="#000" stroke-width="1.6"/>
<path d="M1175.9,777.45 L1189.28,777.45 L1189.28,784.14 L1202.66,784.14 L1202.66,790.82 L1216.03,790.82 L1216.03,797.5 L1229.41,797.5 L1229.41,804.19 L1242.79,804.19 L1242.79,810.87 L1256.17,810.87 L1256.17,817.55 L1269.54,817.55 L1269.54,824.23 L1282.92,824.23 L1282.92,830.92 L1296.3,830.92" fill="none" stroke="#222" stroke-width="0.6" stroke-linejoin="miter"/>
<path d="M1174.2,775.65 L1187.58,775.65 L1187.58,782.34 L1200.96,782.34 L1200.96,789.02 L1214.33,789.02 L1214.33,795.7 L1227.71,795.7 L1227.71,802.39 L1241.09,802.39 L1241.09,809.07 L1254.47,809.07 L1254.47,815.75 L1267.84,815.75 L1267.84,822.43 L1281.22,822.43 L1281.22,829.12 L1294.6,829.12 L1294.6,835.8" fill="none" stroke="#000" stroke-width="1.45" stroke-linejoin="miter"/>
<rect x="1294.5" y="831.5" width="3" height="4" fill="#000" stroke="#000" stroke-width="1" shape-rendering="crispEdges"/>
<line x1="1153" y1="197.4" x2="1153" y2="243" stroke="#000" stroke-width="2" shape-rendering="crispEdges"/>
<rect x="1150.5" y="243.5" width="4" height="5" fill="#fff" stroke="#000" stroke-width="1" shape-rendering="crispEdges"/>
<line x1="1153" y1="208" x2="1320.7" y2="300.5" stroke="#000" stroke-width="1.5"/>
<line x1="1320.5" y1="300.5" x2="1320.5" y2="345.7" stroke="#000" stroke-width="1" shape-rendering="crispEdges"/>
<line x1="1322.5" y1="301.2" x2="1322.5" y2="345.7" stroke="#000" stroke-width="1" shape-rendering="crispEdges"/>
<line x1="1319.6" y1="304.3" x2="1277.1" y2="328.2" stroke="#000" stroke-width="0.8"/>
<line x1="1319.6" y1="305.5" x2="1277.1" y2="329.4" stroke="#000" stroke-width="0.8"/>
<line x1="1277.1" y1="328.5" x2="1151.2" y2="398.9" stroke="#000" stroke-width="1.4"/>
<line x1="1151" y1="398.5" x2="1151" y2="443.7" stroke="#000" stroke-width="2" shape-rendering="crispEdges"/>
<line x1="1153.5" y1="400" x2="1153.5" y2="443.7" stroke="#000" stroke-width="1" shape-rendering="crispEdges"/>
<line x1="1153" y1="404.05" x2="1250" y2="457.55" stroke="#000" stroke-width="2.3"/>
<line x1="1153" y1="404.05" x2="1250" y2="457.55" stroke="#fff" stroke-width="0.9" stroke-dasharray="1.3 1.5"/>
<line x1="1250" y1="457.55" x2="1320.7" y2="496.55" stroke="#000" stroke-width="1.6"/>
<line x1="1320.5" y1="496.55" x2="1320.5" y2="541.75" stroke="#000" stroke-width="1" shape-rendering="crispEdges"/>
<line x1="1322.5" y1="497.25" x2="1322.5" y2="541.75" stroke="#000" stroke-width="1" shape-rendering="crispEdges"/>
<line x1="1319.6" y1="500.35" x2="1277.1" y2="524.25" stroke="#000" stroke-width="0.8"/>
<line x1="1319.6" y1="501.55" x2="1277.1" y2="525.45" stroke="#000" stroke-width="0.8"/>
<line x1="1277.1" y1="524.25" x2="1225" y2="553.55" stroke="#000" stroke-width="2.3"/>
<line x1="1277.1" y1="524.25" x2="1225" y2="553.55" stroke="#fff" stroke-width="0.9" stroke-dasharray="1.3 1.5"/>
<line x1="1225" y1="553.55" x2="1151.2" y2="594.95" stroke="#000" stroke-width="1.7"/>
<line x1="1151" y1="594.55" x2="1151" y2="639.75" stroke="#000" stroke-width="2" shape-rendering="crispEdges"/>
<line x1="1153.5" y1="596.05" x2="1153.5" y2="639.75" stroke="#000" stroke-width="1" shape-rendering="crispEdges"/>
<line x1="1150" y1="595" x2="1178.2" y2="595" stroke="#000" stroke-width="2" shape-rendering="crispEdges"/>
<line x1="1177.9" y1="595.3" x2="1298.4" y2="657.5" stroke="#000" stroke-width="2.3"/>
<line x1="1177.9" y1="595.3" x2="1298.4" y2="657.5" stroke="#fff" stroke-width="0.9" stroke-dasharray="1.3 1.5"/>
<line x1="1297.5" y1="656.5" x2="1297.5" y2="702" stroke="#000" stroke-width="1" shape-rendering="crispEdges"/>
<line x1="1298.5" y1="657.5" x2="1298.5" y2="702" stroke="#000" stroke-width="1" shape-rendering="crispEdges"/>
<line x1="1298.4" y1="659.5" x2="1169.8" y2="724" stroke="#000" stroke-width="0.8"/>
<line x1="1298.4" y1="660.8" x2="1169.8" y2="725.3" stroke="#000" stroke-width="0.8"/>
<line x1="1169.5" y1="724" x2="1169.5" y2="768.5" stroke="#000" stroke-width="1" shape-rendering="crispEdges"/>
<line x1="1172.5" y1="725" x2="1172.5" y2="768.5" stroke="#000" stroke-width="1" shape-rendering="crispEdges"/>
<line x1="1171" y1="727.9" x2="1289" y2="786.5" stroke="#000" stroke-width="2.3"/>
<line x1="1171" y1="727.9" x2="1289" y2="786.5" stroke="#fff" stroke-width="0.9" stroke-dasharray="1.3 1.5"/>
<line x1="1289.5" y1="786" x2="1289.5" y2="833.5" stroke="#000" stroke-width="1" shape-rendering="crispEdges"/>
<line x1="1058.3" y1="581.5" x2="1410.7" y2="581.5" stroke="#000" stroke-width="1" shape-rendering="crispEdges"/>
<line x1="1154.5" y1="557" x2="1154.5" y2="587.6" stroke="#000" stroke-width="1" shape-rendering="crispEdges"/>
<line x1="1316.5" y1="548.5" x2="1316.5" y2="587.6" stroke="#000" stroke-width="1" shape-rendering="crispEdges"/>
<text x="1111.8" y="579.4" font-size="9.4" textLength="14" lengthAdjust="spacingAndGlyphs" text-anchor="middle" fill="#505050">1900</text>
<text x="1201" y="579.4" font-size="9.4" textLength="40" lengthAdjust="spacingAndGlyphs" text-anchor="middle" fill="#505050">280x13=3640</text>
<text x="1359.7" y="579.4" font-size="9.4" textLength="14" lengthAdjust="spacingAndGlyphs" text-anchor="middle" fill="#505050">1900</text>
<text x="1049" y="591.2" font-size="9.4" textLength="9.5" lengthAdjust="spacingAndGlyphs" text-anchor="middle" fill="#505050">200</text>
<text x="1419.5" y="591.2" font-size="9.4" textLength="9.5" lengthAdjust="spacingAndGlyphs" text-anchor="middle" fill="#505050">200</text>
<line x1="1065.5" y1="666.5" x2="1401.6" y2="666.5" stroke="#000" stroke-width="1" shape-rendering="crispEdges"/>
<line x1="1187.5" y1="659.5" x2="1187.5" y2="678" stroke="#000" stroke-width="1" shape-rendering="crispEdges"/>
<line x1="1294.5" y1="659.5" x2="1294.5" y2="678" stroke="#000" stroke-width="1" shape-rendering="crispEdges"/>
<text x="1127.4" y="664" font-size="9.4" textLength="14.5" lengthAdjust="spacingAndGlyphs" text-anchor="middle" fill="#505050">2700</text>
<text x="1263.5" y="664" font-size="9.4" textLength="39" lengthAdjust="spacingAndGlyphs" text-anchor="middle" fill="#505050">300x8=2400</text>
<text x="1346.9" y="664" font-size="9.4" textLength="14.5" lengthAdjust="spacingAndGlyphs" text-anchor="middle" fill="#505050">2400</text>
<line x1="1154.2" y1="621.5" x2="1188.3" y2="621.5" stroke="#000" stroke-width="1" shape-rendering="crispEdges"/>
<line x1="1188.5" y1="616" x2="1188.5" y2="628" stroke="#000" stroke-width="1" shape-rendering="crispEdges"/>
<text x="1172" y="619.6" font-size="9.4" textLength="8" lengthAdjust="spacingAndGlyphs" text-anchor="middle" fill="#505050">140</text>
<line x1="1135.5" y1="197.4" x2="1135.5" y2="247.2" stroke="#000" stroke-width="1" shape-rendering="crispEdges"/>
<line x1="1131.5" y1="197.5" x2="1145" y2="197.5" stroke="#000" stroke-width="1" shape-rendering="crispEdges"/>
<line x1="1131.5" y1="243.5" x2="1144.5" y2="243.5" stroke="#000" stroke-width="1" shape-rendering="crispEdges"/>
<text x="1132.6" y="227.5" font-size="9.4" textLength="31" lengthAdjust="spacingAndGlyphs" text-anchor="middle" transform="rotate(-90 1132.6 227.5)" fill="#505050">150 1100</text>
<line x1="1021.5" y1="247.7" x2="1021.5" y2="835.8" stroke="#000" stroke-width="1" shape-rendering="crispEdges"/>
<line x1="994.8" y1="247.5" x2="1026.5" y2="247.5" stroke="#000" stroke-width="1" shape-rendering="crispEdges"/>
<line x1="978.1" y1="240.5" x2="1011.5" y2="240.5" stroke="#000" stroke-width="1" shape-rendering="crispEdges"/>
<path d="M998.2,241.3 L1011.5,241.3 L1004.8,247.2Z" fill="none" stroke="#000" stroke-width="0.8" stroke-linejoin="miter"/>
<text x="978.3" y="238.4" font-size="9.3" textLength="23.5" lengthAdjust="spacingAndGlyphs" class="b">13.200</text>
<line x1="994.8" y1="443.5" x2="1026.5" y2="443.5" stroke="#000" stroke-width="1" shape-rendering="crispEdges"/>
<line x1="982" y1="436.5" x2="1011.5" y2="436.5" stroke="#000" stroke-width="1" shape-rendering="crispEdges"/>
<path d="M998.2,437.33 L1011.5,437.33 L1004.8,443.23Z" fill="none" stroke="#000" stroke-width="0.8" stroke-linejoin="miter"/>
<text x="982.2" y="434.43" font-size="9.3" textLength="19.5" lengthAdjust="spacingAndGlyphs" class="b">8.800</text>
<line x1="994.8" y1="639.5" x2="1026.5" y2="639.5" stroke="#000" stroke-width="1" shape-rendering="crispEdges"/>
<line x1="982" y1="632.5" x2="1011.5" y2="632.5" stroke="#000" stroke-width="1" shape-rendering="crispEdges"/>
<path d="M998.2,633.37 L1011.5,633.37 L1004.8,639.27Z" fill="none" stroke="#000" stroke-width="0.8" stroke-linejoin="miter"/>
<text x="982.2" y="630.47" font-size="9.3" textLength="19.5" lengthAdjust="spacingAndGlyphs" class="b">4.400</text>
<line x1="994.8" y1="835.5" x2="1026.5" y2="835.5" stroke="#000" stroke-width="1" shape-rendering="crispEdges"/>
<line x1="975" y1="828.5" x2="1011.5" y2="828.5" stroke="#000" stroke-width="1" shape-rendering="crispEdges"/>
<path d="M998.2,829.4 L1011.5,829.4 L1004.8,835.3Z" fill="none" stroke="#000" stroke-width="0.8" stroke-linejoin="miter"/>
<text x="975.2" y="826.5" font-size="9.3" textLength="26" lengthAdjust="spacingAndGlyphs" class="b">±0.000</text>
<text x="1018.6" y="345.7" font-size="9.4" textLength="13.6" lengthAdjust="spacingAndGlyphs" text-anchor="middle" transform="rotate(-90 1018.6 345.7)" fill="#505050">4400</text>
<text x="1018.6" y="541.7" font-size="9.4" textLength="13.6" lengthAdjust="spacingAndGlyphs" text-anchor="middle" transform="rotate(-90 1018.6 541.7)" fill="#505050">4400</text>
<text x="1018.6" y="737.8" font-size="9.4" textLength="13.6" lengthAdjust="spacingAndGlyphs" text-anchor="middle" transform="rotate(-90 1018.6 737.8)" fill="#505050">4400</text>
<line x1="1501.5" y1="247.7" x2="1501.5" y2="849.9" stroke="#000" stroke-width="1" shape-rendering="crispEdges"/>
<line x1="1446.2" y1="247.5" x2="1523.7" y2="247.5" stroke="#000" stroke-width="1" shape-rendering="crispEdges"/>
<path d="M1509.1,241.5 L1523.7,241.5 L1516.4,247.3Z" fill="none" stroke="#000" stroke-width="0.8" stroke-linejoin="miter"/>
<line x1="1509.1" y1="241.5" x2="1542.4" y2="241.5" stroke="#000" stroke-width="1" shape-rendering="crispEdges"/>
<text x="1519.3" y="238.9" font-size="9.3" textLength="22.5" lengthAdjust="spacingAndGlyphs" class="b">13.200</text>
<line x1="1446.2" y1="345.5" x2="1523.7" y2="345.5" stroke="#000" stroke-width="1" shape-rendering="crispEdges"/>
<path d="M1509.1,339.52 L1523.7,339.52 L1516.4,345.32Z" fill="none" stroke="#000" stroke-width="0.8" stroke-linejoin="miter"/>
<line x1="1509.1" y1="339.5" x2="1541.4" y2="339.5" stroke="#000" stroke-width="1" shape-rendering="crispEdges"/>
<text x="1519.3" y="336.92" font-size="9.3" textLength="21.5" lengthAdjust="spacingAndGlyphs" class="b">11.000</text>
<line x1="1446.2" y1="443.5" x2="1523.7" y2="443.5" stroke="#000" stroke-width="1" shape-rendering="crispEdges"/>
<path d="M1509.1,437.53 L1523.7,437.53 L1516.4,443.33Z" fill="none" stroke="#000" stroke-width="0.8" stroke-linejoin="miter"/>
<line x1="1509.1" y1="437.5" x2="1538.9" y2="437.5" stroke="#000" stroke-width="1" shape-rendering="crispEdges"/>
<text x="1519.3" y="434.93" font-size="9.3" textLength="19" lengthAdjust="spacingAndGlyphs" class="b">8.800</text>
<line x1="1446.2" y1="541.5" x2="1523.7" y2="541.5" stroke="#000" stroke-width="1" shape-rendering="crispEdges"/>
<path d="M1509.1,535.55 L1523.7,535.55 L1516.4,541.35Z" fill="none" stroke="#000" stroke-width="0.8" stroke-linejoin="miter"/>
<line x1="1509.1" y1="535.5" x2="1538.9" y2="535.5" stroke="#000" stroke-width="1" shape-rendering="crispEdges"/>
<text x="1519.3" y="532.95" font-size="9.3" textLength="19" lengthAdjust="spacingAndGlyphs" class="b">6.600</text>
<line x1="1446.2" y1="639.5" x2="1523.7" y2="639.5" stroke="#000" stroke-width="1" shape-rendering="crispEdges"/>
<path d="M1509.1,633.57 L1523.7,633.57 L1516.4,639.37Z" fill="none" stroke="#000" stroke-width="0.8" stroke-linejoin="miter"/>
<line x1="1509.1" y1="633.5" x2="1538.9" y2="633.5" stroke="#000" stroke-width="1" shape-rendering="crispEdges"/>
<text x="1519.3" y="630.97" font-size="9.3" textLength="19" lengthAdjust="spacingAndGlyphs" class="b">4.400</text>
<line x1="1446.2" y1="702.5" x2="1523.7" y2="702.5" stroke="#000" stroke-width="1" shape-rendering="crispEdges"/>
<path d="M1509.1,695.94 L1523.7,695.94 L1516.4,701.74Z" fill="none" stroke="#000" stroke-width="0.8" stroke-linejoin="miter"/>
<line x1="1509.1" y1="695.5" x2="1538.9" y2="695.5" stroke="#000" stroke-width="1" shape-rendering="crispEdges"/>
<text x="1519.3" y="693.34" font-size="9.3" textLength="19" lengthAdjust="spacingAndGlyphs" class="b">3.000</text>
<line x1="1446.2" y1="768.5" x2="1523.7" y2="768.5" stroke="#000" stroke-width="1" shape-rendering="crispEdges"/>
<path d="M1509.1,762.77 L1523.7,762.77 L1516.4,768.57Z" fill="none" stroke="#000" stroke-width="0.8" stroke-linejoin="miter"/>
<line x1="1509.1" y1="762.5" x2="1538.4" y2="762.5" stroke="#000" stroke-width="1" shape-rendering="crispEdges"/>
<text x="1519.3" y="760.17" font-size="9.3" textLength="18.5" lengthAdjust="spacingAndGlyphs" class="b">1.500</text>
<line x1="1446.2" y1="835.5" x2="1523.7" y2="835.5" stroke="#000" stroke-width="1" shape-rendering="crispEdges"/>
<path d="M1509.1,829.6 L1523.7,829.6 L1516.4,835.4Z" fill="none" stroke="#000" stroke-width="0.8" stroke-linejoin="miter"/>
<line x1="1509.1" y1="829.5" x2="1544.9" y2="829.5" stroke="#000" stroke-width="1" shape-rendering="crispEdges"/>
<text x="1519.3" y="827" font-size="9.3" textLength="25" lengthAdjust="spacingAndGlyphs" class="b">±0.000</text>
<line x1="1441.3" y1="849.5" x2="1523.7" y2="849.5" stroke="#000" stroke-width="1" shape-rendering="crispEdges"/>
<text x="1499.8" y="296.71" font-size="9.4" textLength="43" lengthAdjust="spacingAndGlyphs" text-anchor="middle" transform="rotate(-90 1499.8 296.71)" fill="#505050">157x14=2200</text>
<text x="1499.8" y="394.73" font-size="9.4" textLength="43" lengthAdjust="spacingAndGlyphs" text-anchor="middle" transform="rotate(-90 1499.8 394.73)" fill="#505050">157x14=2200</text>
<text x="1499.8" y="492.74" font-size="9.4" textLength="43" lengthAdjust="spacingAndGlyphs" text-anchor="middle" transform="rotate(-90 1499.8 492.74)" fill="#505050">157x14=2200</text>
<text x="1499.8" y="590.76" font-size="9.4" textLength="43" lengthAdjust="spacingAndGlyphs" text-anchor="middle" transform="rotate(-90 1499.8 590.76)" fill="#505050">157x14=2200</text>
<text x="1499.8" y="670.95" font-size="9.4" textLength="38" lengthAdjust="spacingAndGlyphs" text-anchor="middle" transform="rotate(-90 1499.8 670.95)" fill="#505050">156x9=1400</text>
<text x="1499.8" y="735.56" font-size="9.4" textLength="43" lengthAdjust="spacingAndGlyphs" text-anchor="middle" transform="rotate(-90 1499.8 735.56)" fill="#505050">150x10=1500</text>
<text x="1499.8" y="802.39" font-size="9.4" textLength="43" lengthAdjust="spacingAndGlyphs" text-anchor="middle" transform="rotate(-90 1499.8 802.39)" fill="#505050">150x10=1500</text>
<text x="1499.4" y="843" font-size="7" textLength="9" lengthAdjust="spacingAndGlyphs" text-anchor="middle" transform="rotate(-90 1499.4 843)" fill="#505050">300</text>
<line x1="1065.5" y1="919.5" x2="1403" y2="919.5" stroke="#000" stroke-width="1" shape-rendering="crispEdges"/>
<line x1="1174.5" y1="895" x2="1174.5" y2="926" stroke="#000" stroke-width="1" shape-rendering="crispEdges"/>
<line x1="1294.5" y1="895" x2="1294.5" y2="926" stroke="#000" stroke-width="1" shape-rendering="crispEdges"/>
<text x="1121.1" y="917.5" font-size="9.4" textLength="14.5" lengthAdjust="spacingAndGlyphs" text-anchor="middle" fill="#505050">2400</text>
<text x="1234.7" y="917.5" font-size="9.4" textLength="39" lengthAdjust="spacingAndGlyphs" text-anchor="middle" fill="#505050">300x9=2700</text>
<text x="1346.9" y="917.5" font-size="9.4" textLength="14.5" lengthAdjust="spacingAndGlyphs" text-anchor="middle" fill="#505050">2400</text>
<line x1="1065.5" y1="937.5" x2="1403" y2="937.5" stroke="#000" stroke-width="1" shape-rendering="crispEdges"/>
<text x="1234.7" y="934.9" font-size="9.4" textLength="14.5" lengthAdjust="spacingAndGlyphs" text-anchor="middle" fill="#505050">7500</text>
<circle cx="1067.4" cy="955.6" r="7.6" fill="#fff" stroke="#000" stroke-width="0.9"/>
<text x="1067.4" y="957.9" font-size="6.5" textLength="10" lengthAdjust="spacingAndGlyphs" text-anchor="middle" fill="#111">3-C</text>
<circle cx="1401.6" cy="955.6" r="7.6" fill="#fff" stroke="#000" stroke-width="0.9"/>
<text x="1401.6" y="957.9" font-size="6.5" textLength="10" lengthAdjust="spacingAndGlyphs" text-anchor="middle" fill="#111">3-D</text>
<path d="M1165.24,999 L1169.64,999M1167.44,995.4 L1167.44,1009.5M1167.44,999.3 L1165.24,1004.7M1167.44,1000.2 L1169.39,1003.2M1173.3,995.1 L1173.3,1001.4M1170.12,998.1 L1176.83,998.1M1171.1,995.7 L1172.08,997.35M1175.74,995.7 L1174.52,997.35M1173.05,998.4 L1170.37,1001.1M1173.54,998.4 L1176.47,1001.1M1169.88,1004.1 L1176.96,1004.1M1172.56,1001.7 L1171.1,1006.2 L1175.49,1009.2M1175.49,1002.3 L1173.54,1006.8 L1170.12,1009.35" fill="none" stroke="#000" stroke-width="1.15" stroke-linecap="round" stroke-linejoin="round"/>
<path d="M1178.54,999 L1182.94,999M1180.74,995.4 L1180.74,1009.5M1180.74,999.3 L1178.54,1004.7M1180.74,1000.2 L1182.69,1003.2M1184.64,995.4 L1185.62,997.35M1189.04,995.4 L1187.82,997.35M1183.91,999 L1189.52,999 L1189.52,1001.55 L1184.4,1001.55 L1184.03,1004.55 L1189.77,1004.55 L1189.52,1007.7 L1188.3,1007.1M1186.84,997.35 L1186.84,1009.5M1186.6,1004.7 L1183.42,1008.75" fill="none" stroke="#000" stroke-width="1.15" stroke-linecap="round" stroke-linejoin="round"/>
<path d="M1192.21,1002.6 L1203.19,1002.6" fill="none" stroke="#000" stroke-width="1.15" stroke-linecap="round" stroke-linejoin="round"/>
<text x="1225.5" y="1008.2" font-size="16.4" textLength="28.3" lengthAdjust="spacingAndGlyphs" class="b">C--C</text>
<path d="M1257.46,995.1 L1257.9,996.6M1255.48,997.5 L1260.76,997.5M1256.8,998.4 L1257.46,1000.8M1259.66,998.4 L1258.78,1000.8M1254.82,1001.55 L1261.2,1001.55M1255.92,1003.5 L1260.1,1003.5 L1260.1,1008.75 L1255.92,1008.75 L1255.92,1003.5M1262.52,997.05 L1262.52,1005.3M1264.83,995.1 L1264.83,1009.2 L1263.62,1008.15" fill="none" stroke="#000" stroke-width="1.15" stroke-linecap="round" stroke-linejoin="round"/>
<path d="M1267.94,996 L1278.06,996M1273,996 L1272.12,998.7M1268.82,998.7 L1277.18,998.7 L1277.18,1009.2 L1268.82,1009.2 L1268.82,998.7M1271.68,998.7 L1271.68,1009.2M1274.32,998.7 L1274.32,1009.2M1271.68,1002 L1274.32,1002M1271.68,1005.3 L1274.32,1005.3" fill="none" stroke="#000" stroke-width="1.15" stroke-linecap="round" stroke-linejoin="round"/>
<path d="M1281.28,995.7 L1290.52,995.7 L1290.52,1009.2 L1281.28,1009.2 L1281.28,995.7M1285.35,996.9 L1283.04,1000.8M1284.36,998.7 L1287.88,998.7 L1283.7,1004.4M1284.8,1000.2 L1288.98,1004.4M1285.24,1003.8 L1286.78,1005M1284.58,1006.2 L1287.22,1007.7" fill="none" stroke="#000" stroke-width="1.15" stroke-linecap="round" stroke-linejoin="round"/>
<text x="1300.4" y="1009.2" font-size="10.3" textLength="18.5" lengthAdjust="spacingAndGlyphs" class="b">1:50</text>
<line x1="1164" y1="1014" x2="1320.6" y2="1014" stroke="#000" stroke-width="2" shape-rendering="crispEdges"/>
<line x1="1164" y1="1016.5" x2="1320.6" y2="1016.5" stroke="#000" stroke-width="1" shape-rendering="crispEdges"/>
<path d="M1469.96,1037 L1457.53,1055.64" fill="none" stroke="#9c9c9c" stroke-width="7.4" stroke-linejoin="miter"/>
<path d="M1467.7,1044.06 L1493.69,1044.06" fill="none" stroke="#9c9c9c" stroke-width="7.4" stroke-linejoin="miter"/>
<path d="M1456.4,1065.25 L1489.74,1065.25" fill="none" stroke="#9c9c9c" stroke-width="7.4" stroke-linejoin="miter"/>
<path d="M1473.35,1044.06 L1473.35,1065.25" fill="none" stroke="#9c9c9c" stroke-width="7.4" stroke-linejoin="miter"/>
<path d="M1473.35,1065.25 L1459.23,1093.5" fill="none" stroke="#9c9c9c" stroke-width="7.4" stroke-linejoin="miter"/>
<path d="M1474.48,1065.25 L1488.04,1093.5" fill="none" stroke="#9c9c9c" stroke-width="7.4" stroke-linejoin="miter"/>
<path d="M1493.69,1040.67 L1493.69,1093.5" fill="none" stroke="#9c9c9c" stroke-width="7.4" stroke-linejoin="miter"/>
<path d="M1509.51,1040.67 L1509.51,1086.72" fill="none" stroke="#9c9c9c" stroke-width="7.4" stroke-linejoin="miter"/>
<path d="M1490.3,1044.06 L1512.9,1044.06" fill="none" stroke="#9c9c9c" stroke-width="7.4" stroke-linejoin="miter"/>
<path d="M1490.3,1090.11 L1507.25,1090.11 L1511.21,1084.46" fill="none" stroke="#9c9c9c" stroke-width="7.4" stroke-linejoin="miter"/>
<path d="M1548.65,1037 L1548.65,1093.5" fill="none" stroke="#9c9c9c" stroke-width="7.4" stroke-linejoin="miter"/>
<path d="M1520.4,1047.73 L1576.9,1047.73" fill="none" stroke="#9c9c9c" stroke-width="7.4" stroke-linejoin="miter"/>
<path d="M1527.75,1062.14 L1570.12,1062.14" fill="none" stroke="#9c9c9c" stroke-width="7.4" stroke-linejoin="miter"/>
<path d="M1546.96,1068.64 L1523.23,1087.85" fill="none" stroke="#9c9c9c" stroke-width="7.4" stroke-linejoin="miter"/>
<path d="M1550.35,1068.64 L1575.21,1087.85" fill="none" stroke="#9c9c9c" stroke-width="7.4" stroke-linejoin="miter"/>
<path d="M1469.57,1037.58 L1457.92,1055.06" fill="none" stroke="#fff" stroke-width="6" stroke-linejoin="miter"/>
<path d="M1468.4,1044.06 L1492.99,1044.06" fill="none" stroke="#fff" stroke-width="6" stroke-linejoin="miter"/>
<path d="M1457.1,1065.25 L1489.04,1065.25" fill="none" stroke="#fff" stroke-width="6" stroke-linejoin="miter"/>
<path d="M1473.35,1044.76 L1473.35,1064.55" fill="none" stroke="#fff" stroke-width="6" stroke-linejoin="miter"/>
<path d="M1473.04,1065.88 L1459.54,1092.87" fill="none" stroke="#fff" stroke-width="6" stroke-linejoin="miter"/>
<path d="M1474.78,1065.88 L1487.74,1092.87" fill="none" stroke="#fff" stroke-width="6" stroke-linejoin="miter"/>
<path d="M1493.69,1041.37 L1493.69,1092.8" fill="none" stroke="#fff" stroke-width="6" stroke-linejoin="miter"/>
<path d="M1509.51,1041.37 L1509.51,1086.02" fill="none" stroke="#fff" stroke-width="6" stroke-linejoin="miter"/>
<path d="M1491,1044.06 L1512.2,1044.06" fill="none" stroke="#fff" stroke-width="6" stroke-linejoin="miter"/>
<path d="M1491,1090.11 L1507.25,1090.11 L1510.8,1085.03" fill="none" stroke="#fff" stroke-width="6" stroke-linejoin="miter"/>
<path d="M1548.65,1037.7 L1548.65,1092.8" fill="none" stroke="#fff" stroke-width="6" stroke-linejoin="miter"/>
<path d="M1521.1,1047.73 L1576.2,1047.73" fill="none" stroke="#fff" stroke-width="6" stroke-linejoin="miter"/>
<path d="M1528.45,1062.14 L1569.42,1062.14" fill="none" stroke="#fff" stroke-width="6" stroke-linejoin="miter"/>
<path d="M1546.41,1069.08 L1523.77,1087.41" fill="none" stroke="#fff" stroke-width="6" stroke-linejoin="miter"/>
<path d="M1550.9,1069.07 L1574.65,1087.42" fill="none" stroke="#fff" stroke-width="6" stroke-linejoin="miter"/>
<text x="1410" y="1138" font-size="33" textLength="206.5" lengthAdjust="spacingAndGlyphs" style="fill:#fff;stroke:#8c8c8c;stroke-width:1px;font-weight:bold">ID: 165112168</text>
</svg>
</body></html>
